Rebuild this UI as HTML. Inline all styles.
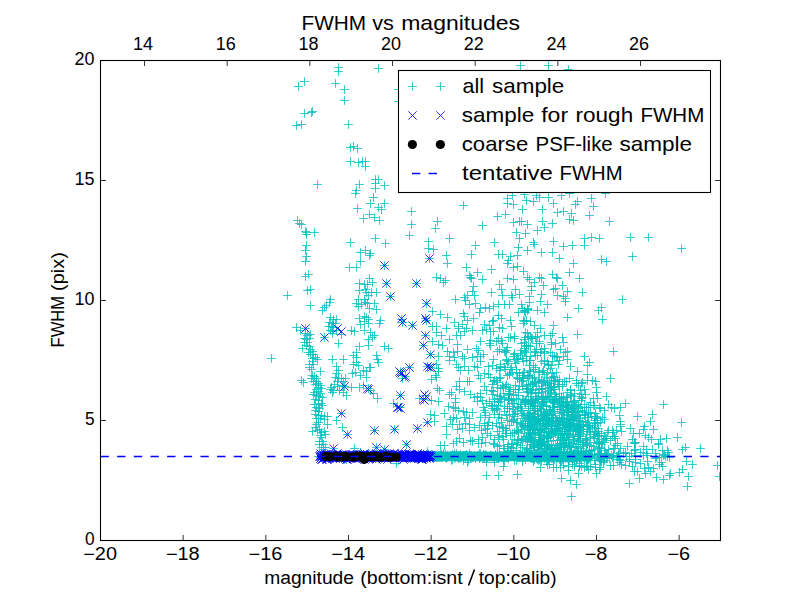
<!DOCTYPE html>
<html><head><meta charset="utf-8"><title>FWHM vs magnitudes</title>
<style>
html,body{margin:0;padding:0;background:#fff;}
body{width:800px;height:600px;overflow:hidden;}
svg{display:block;}
text{font-family:"Liberation Sans",sans-serif;fill:#000;}
.tk{font-size:17.5px;}
.lg{font-size:20.6px;}
.xl{font-size:18px;}
</style></head><body>
<svg width="800" height="600" viewBox="0 0 800 600">
<rect width="800" height="600" fill="#fff"/>
<defs><clipPath id="ax"><rect x="100.5" y="60.5" width="620" height="480"/></clipPath></defs>

<g clip-path="url(#ax)">
<rect x="433" y="451.6" width="150" height="9.6" fill="#00bfbf"/>
<path d="M334.1 67.5h8.8M338.5 63.1v8.8M334.1 71.5h8.8M338.5 67.1v8.8M374.1 68.5h8.8M378.5 64.1v8.8M300.1 81.5h8.8M304.5 77.1v8.8M294.1 86.5h8.8M298.5 82.1v8.8M331.1 83.5h8.8M335.5 79.1v8.8M340.1 89.5h8.8M344.5 85.1v8.8M340.1 100.5h8.8M344.5 96.1v8.8M394.1 89.5h8.8M398.5 85.1v8.8M394.1 101.5h8.8M398.5 97.1v8.8M300.1 113.5h8.8M304.5 109.1v8.8M307.1 112.5h8.8M311.5 108.1v8.8M308.1 111.5h8.8M312.5 107.1v8.8M292.1 125.5h8.8M296.5 121.1v8.8M297.1 124.5h8.8M301.5 120.1v8.8M344.1 124.5h8.8M348.5 120.1v8.8M346.1 147.5h8.8M350.5 143.1v8.8M349.1 146.5h8.8M353.5 142.1v8.8M353.1 148.5h8.8M357.5 144.1v8.8M346.1 161.5h8.8M350.5 157.1v8.8M354.1 162.5h8.8M358.5 158.1v8.8M358.1 161.5h8.8M362.5 157.1v8.8M361.1 161.5h8.8M365.5 157.1v8.8M361.1 166.5h8.8M365.5 162.1v8.8M371.1 179.5h8.8M375.5 175.1v8.8M374.1 179.5h8.8M378.5 175.1v8.8M313.1 184.5h8.8M317.5 180.1v8.8M355.1 184.5h8.8M359.5 180.1v8.8M352.1 190.5h8.8M356.5 186.1v8.8M351.1 193.5h8.8M355.5 189.1v8.8M371.1 183.5h8.8M375.5 179.1v8.8M380.1 185.5h8.8M384.5 181.1v8.8M371.1 188.5h8.8M375.5 184.1v8.8M369.1 197.5h8.8M373.5 193.1v8.8M366.1 203.5h8.8M370.5 199.1v8.8M380.1 203.5h8.8M384.5 199.1v8.8M374.1 207.5h8.8M378.5 203.1v8.8M377.1 209.5h8.8M381.5 205.1v8.8M353.1 208.5h8.8M357.5 204.1v8.8M365.1 214.5h8.8M369.5 210.1v8.8M359.1 218.5h8.8M363.5 214.1v8.8M370.1 217.5h8.8M374.5 213.1v8.8M375.1 220.5h8.8M379.5 216.1v8.8M407.1 211.5h8.8M411.5 207.1v8.8M407.1 224.5h8.8M411.5 220.1v8.8M405.1 235.5h8.8M409.5 231.1v8.8M293.1 220.5h8.8M297.5 216.1v8.8M295.1 223.5h8.8M299.5 219.1v8.8M297.1 224.5h8.8M301.5 220.1v8.8M301.1 231.5h8.8M305.5 227.1v8.8M302.1 232.5h8.8M306.5 228.1v8.8M302.1 234.5h8.8M306.5 230.1v8.8M310.1 232.5h8.8M314.5 228.1v8.8M302.1 245.5h8.8M306.5 241.1v8.8M301.1 250.5h8.8M305.5 246.1v8.8M302.1 256.5h8.8M306.5 252.1v8.8M301.1 261.5h8.8M305.5 257.1v8.8M304.1 274.5h8.8M308.5 270.1v8.8M301.1 276.5h8.8M305.5 272.1v8.8M303.1 290.5h8.8M307.5 286.1v8.8M306.1 289.5h8.8M310.5 285.1v8.8M283.1 295.5h8.8M287.5 291.1v8.8M326.1 299.5h8.8M330.5 295.1v8.8M346.1 242.5h8.8M350.5 238.1v8.8M371.1 238.5h8.8M375.5 234.1v8.8M381.1 243.5h8.8M385.5 239.1v8.8M361.1 250.5h8.8M365.5 246.1v8.8M356.1 252.5h8.8M360.5 248.1v8.8M366.1 253.5h8.8M370.5 249.1v8.8M365.1 255.5h8.8M369.5 251.1v8.8M356.1 261.5h8.8M360.5 257.1v8.8M345.1 267.5h8.8M349.5 263.1v8.8M352.1 267.5h8.8M356.5 263.1v8.8M365.1 278.5h8.8M369.5 274.1v8.8M368.1 282.5h8.8M372.5 278.1v8.8M355.1 283.5h8.8M359.5 279.1v8.8M360.1 284.5h8.8M364.5 280.1v8.8M363.1 284.5h8.8M367.5 280.1v8.8M355.1 290.5h8.8M359.5 286.1v8.8M361.1 289.5h8.8M365.5 285.1v8.8M362.1 292.5h8.8M366.5 288.1v8.8M367.1 292.5h8.8M371.5 288.1v8.8M372.1 292.5h8.8M376.5 288.1v8.8M364.1 295.5h8.8M368.5 291.1v8.8M354.1 299.5h8.8M358.5 295.1v8.8M360.1 299.5h8.8M364.5 295.1v8.8M380.1 265.5h8.8M384.5 261.1v8.8M382.1 283.5h8.8M386.5 279.1v8.8M412.1 283.5h8.8M416.5 279.1v8.8M386.1 296.5h8.8M390.5 292.1v8.8M306.1 305.5h8.8M310.5 301.1v8.8M318.1 310.5h8.8M322.5 306.1v8.8M320.1 307.5h8.8M324.5 303.1v8.8M322.1 305.5h8.8M326.5 301.1v8.8M325.1 302.5h8.8M329.5 298.1v8.8M292.1 327.5h8.8M296.5 323.1v8.8M296.1 330.5h8.8M300.5 326.1v8.8M301.1 328.5h8.8M305.5 324.1v8.8M301.1 333.5h8.8M305.5 329.1v8.8M303.1 335.5h8.8M307.5 331.1v8.8M306.1 334.5h8.8M310.5 330.1v8.8M300.1 338.5h8.8M304.5 334.1v8.8M302.1 339.5h8.8M306.5 335.1v8.8M305.1 338.5h8.8M309.5 334.1v8.8M300.1 342.5h8.8M304.5 338.1v8.8M303.1 342.5h8.8M307.5 338.1v8.8M302.1 345.5h8.8M306.5 341.1v8.8M305.1 346.5h8.8M309.5 342.1v8.8M298.1 348.5h8.8M302.5 344.1v8.8M306.1 349.5h8.8M310.5 345.1v8.8M304.1 352.5h8.8M308.5 348.1v8.8M308.1 351.5h8.8M312.5 347.1v8.8M306.1 354.5h8.8M310.5 350.1v8.8M309.1 354.5h8.8M313.5 350.1v8.8M311.1 357.5h8.8M315.5 353.1v8.8M308.1 358.5h8.8M312.5 354.1v8.8M313.1 359.5h8.8M317.5 355.1v8.8M267.1 358.5h8.8M271.5 354.1v8.8M326.1 317.5h8.8M330.5 313.1v8.8M329.1 319.5h8.8M333.5 315.1v8.8M332.1 319.5h8.8M336.5 315.1v8.8M325.1 322.5h8.8M329.5 318.1v8.8M328.1 323.5h8.8M332.5 319.1v8.8M331.1 323.5h8.8M335.5 319.1v8.8M324.1 326.5h8.8M328.5 322.1v8.8M327.1 326.5h8.8M331.5 322.1v8.8M329.1 327.5h8.8M333.5 323.1v8.8M326.1 330.5h8.8M330.5 326.1v8.8M328.1 331.5h8.8M332.5 327.1v8.8M332.1 330.5h8.8M336.5 326.1v8.8M328.1 333.5h8.8M332.5 329.1v8.8M334.1 343.5h8.8M338.5 339.1v8.8M328.1 359.5h8.8M332.5 355.1v8.8M320.1 337.5h8.8M324.5 333.1v8.8M352.1 303.5h8.8M356.5 299.1v8.8M354.1 306.5h8.8M358.5 302.1v8.8M357.1 304.5h8.8M361.5 300.1v8.8M361.1 302.5h8.8M365.5 298.1v8.8M363.1 303.5h8.8M367.5 299.1v8.8M365.1 308.5h8.8M369.5 304.1v8.8M370.1 303.5h8.8M374.5 299.1v8.8M372.1 309.5h8.8M376.5 305.1v8.8M355.1 318.5h8.8M359.5 314.1v8.8M356.1 324.5h8.8M360.5 320.1v8.8M360.1 316.5h8.8M364.5 312.1v8.8M360.1 321.5h8.8M364.5 317.1v8.8M362.1 317.5h8.8M366.5 313.1v8.8M364.1 319.5h8.8M368.5 315.1v8.8M360.1 330.5h8.8M364.5 326.1v8.8M364.1 323.5h8.8M368.5 319.1v8.8M376.1 320.5h8.8M380.5 316.1v8.8M375.1 323.5h8.8M379.5 319.1v8.8M347.1 330.5h8.8M351.5 326.1v8.8M350.1 331.5h8.8M354.5 327.1v8.8M366.1 332.5h8.8M370.5 328.1v8.8M370.1 335.5h8.8M374.5 331.1v8.8M364.1 339.5h8.8M368.5 335.1v8.8M368.1 337.5h8.8M372.5 333.1v8.8M364.1 345.5h8.8M368.5 341.1v8.8M355.1 346.5h8.8M359.5 342.1v8.8M352.1 352.5h8.8M356.5 348.1v8.8M349.1 355.5h8.8M353.5 351.1v8.8M352.1 357.5h8.8M356.5 353.1v8.8M339.1 359.5h8.8M343.5 355.1v8.8M380.1 346.5h8.8M384.5 342.1v8.8M384.1 348.5h8.8M388.5 344.1v8.8M372.1 355.5h8.8M376.5 351.1v8.8M373.1 359.5h8.8M377.5 355.1v8.8M337.1 334.5h8.8M341.5 330.1v8.8M397.1 319.5h8.8M401.5 315.1v8.8M398.1 322.5h8.8M402.5 318.1v8.8M408.1 325.5h8.8M412.5 321.1v8.8M297.1 380.5h8.8M301.5 376.1v8.8M299.1 382.5h8.8M303.5 378.1v8.8M308.1 361.5h8.8M312.5 357.1v8.8M305.1 364.5h8.8M309.5 360.1v8.8M309.1 364.5h8.8M313.5 360.1v8.8M305.1 367.5h8.8M309.5 363.1v8.8M307.1 369.5h8.8M311.5 365.1v8.8M316.1 371.5h8.8M320.5 367.1v8.8M308.1 375.5h8.8M312.5 371.1v8.8M310.1 376.5h8.8M314.5 372.1v8.8M312.1 378.5h8.8M316.5 374.1v8.8M307.1 378.5h8.8M311.5 374.1v8.8M309.1 381.5h8.8M313.5 377.1v8.8M312.1 381.5h8.8M316.5 377.1v8.8M314.1 383.5h8.8M318.5 379.1v8.8M311.1 384.5h8.8M315.5 380.1v8.8M316.1 385.5h8.8M320.5 381.1v8.8M314.1 387.5h8.8M318.5 383.1v8.8M317.1 388.5h8.8M321.5 384.1v8.8M312.1 389.5h8.8M316.5 385.1v8.8M314.1 391.5h8.8M318.5 387.1v8.8M310.1 392.5h8.8M314.5 388.1v8.8M316.1 393.5h8.8M320.5 389.1v8.8M309.1 394.5h8.8M313.5 390.1v8.8M312.1 395.5h8.8M316.5 391.1v8.8M315.1 396.5h8.8M319.5 392.1v8.8M318.1 397.5h8.8M322.5 393.1v8.8M311.1 399.5h8.8M315.5 395.1v8.8M314.1 400.5h8.8M318.5 396.1v8.8M310.1 404.5h8.8M314.5 400.1v8.8M314.1 404.5h8.8M318.5 400.1v8.8M317.1 403.5h8.8M321.5 399.1v8.8M318.1 405.5h8.8M322.5 401.1v8.8M312.1 407.5h8.8M316.5 403.1v8.8M315.1 408.5h8.8M319.5 404.1v8.8M311.1 410.5h8.8M315.5 406.1v8.8M314.1 411.5h8.8M318.5 407.1v8.8M311.1 414.5h8.8M315.5 410.1v8.8M314.1 415.5h8.8M318.5 411.1v8.8M317.1 415.5h8.8M321.5 411.1v8.8M320.1 416.5h8.8M324.5 412.1v8.8M323.1 416.5h8.8M327.5 412.1v8.8M312.1 418.5h8.8M316.5 414.1v8.8M316.1 418.5h8.8M320.5 414.1v8.8M320.1 419.5h8.8M324.5 415.1v8.8M332.1 366.5h8.8M336.5 362.1v8.8M334.1 370.5h8.8M338.5 366.1v8.8M332.1 373.5h8.8M336.5 369.1v8.8M331.1 377.5h8.8M335.5 373.1v8.8M334.1 378.5h8.8M338.5 374.1v8.8M333.1 381.5h8.8M337.5 377.1v8.8M330.1 384.5h8.8M334.5 380.1v8.8M333.1 386.5h8.8M337.5 382.1v8.8M327.1 387.5h8.8M331.5 383.1v8.8M326.1 389.5h8.8M330.5 385.1v8.8M329.1 390.5h8.8M333.5 386.1v8.8M328.1 392.5h8.8M332.5 388.1v8.8M335.1 390.5h8.8M339.5 386.1v8.8M349.1 364.5h8.8M353.5 360.1v8.8M352.1 362.5h8.8M356.5 358.1v8.8M354.1 365.5h8.8M358.5 361.1v8.8M374.1 362.5h8.8M378.5 358.1v8.8M348.1 373.5h8.8M352.5 369.1v8.8M351.1 372.5h8.8M355.5 368.1v8.8M356.1 375.5h8.8M360.5 371.1v8.8M359.1 370.5h8.8M363.5 366.1v8.8M362.1 371.5h8.8M366.5 367.1v8.8M365.1 367.5h8.8M369.5 363.1v8.8M366.1 367.5h8.8M370.5 363.1v8.8M362.1 377.5h8.8M366.5 373.1v8.8M337.1 378.5h8.8M341.5 374.1v8.8M339.1 381.5h8.8M343.5 377.1v8.8M341.1 378.5h8.8M345.5 374.1v8.8M338.1 385.5h8.8M342.5 381.1v8.8M340.1 386.5h8.8M344.5 382.1v8.8M347.1 387.5h8.8M351.5 383.1v8.8M355.1 387.5h8.8M359.5 383.1v8.8M359.1 385.5h8.8M363.5 381.1v8.8M339.1 392.5h8.8M343.5 388.1v8.8M342.1 395.5h8.8M346.5 391.1v8.8M364.1 388.5h8.8M368.5 384.1v8.8M366.1 390.5h8.8M370.5 386.1v8.8M369.1 393.5h8.8M373.5 389.1v8.8M373.1 398.5h8.8M377.5 394.1v8.8M396.1 371.5h8.8M400.5 367.1v8.8M398.1 375.5h8.8M402.5 371.1v8.8M401.1 376.5h8.8M405.5 372.1v8.8M405.1 367.5h8.8M409.5 363.1v8.8M398.1 378.5h8.8M402.5 374.1v8.8M396.1 395.5h8.8M400.5 391.1v8.8M389.1 403.5h8.8M393.5 399.1v8.8M393.1 406.5h8.8M397.5 402.1v8.8M396.1 407.5h8.8M400.5 403.1v8.8M415.1 398.5h8.8M419.5 394.1v8.8M337.1 413.5h8.8M341.5 409.1v8.8M308.1 431.5h8.8M312.5 427.1v8.8M311.1 427.5h8.8M315.5 423.1v8.8M312.1 424.5h8.8M316.5 420.1v8.8M314.1 422.5h8.8M318.5 418.1v8.8M323.1 424.5h8.8M327.5 420.1v8.8M313.1 430.5h8.8M317.5 426.1v8.8M315.1 429.5h8.8M319.5 425.1v8.8M317.1 432.5h8.8M321.5 428.1v8.8M320.1 431.5h8.8M324.5 427.1v8.8M321.1 434.5h8.8M325.5 430.1v8.8M316.1 435.5h8.8M320.5 431.1v8.8M317.1 437.5h8.8M321.5 433.1v8.8M315.1 441.5h8.8M319.5 437.1v8.8M318.1 441.5h8.8M322.5 437.1v8.8M315.1 444.5h8.8M319.5 440.1v8.8M319.1 444.5h8.8M323.5 440.1v8.8M321.1 447.5h8.8M325.5 443.1v8.8M317.1 447.5h8.8M321.5 443.1v8.8M319.1 449.5h8.8M323.5 445.1v8.8M338.1 427.5h8.8M342.5 423.1v8.8M332.1 420.5h8.8M336.5 416.1v8.8M343.1 434.5h8.8M347.5 430.1v8.8M370.1 430.5h8.8M374.5 426.1v8.8M329.1 448.5h8.8M333.5 444.1v8.8M372.1 447.5h8.8M376.5 443.1v8.8M350.1 448.5h8.8M354.5 444.1v8.8M314.1 456.5h8.8M318.5 452.1v8.8M390.1 429.5h8.8M394.5 425.1v8.8M413.1 428.5h8.8M417.5 424.1v8.8M402.1 444.5h8.8M406.5 440.1v8.8M423.1 422.5h8.8M427.5 418.1v8.8M380.1 449.5h8.8M384.5 445.1v8.8M430.1 421.5h8.8M434.5 417.1v8.8M392.1 463.5h8.8M396.5 459.1v8.8M442.1 426.5h8.8M446.5 422.1v8.8M442.1 434.5h8.8M446.5 430.1v8.8M436.1 445.5h8.8M440.5 441.1v8.8M440.1 445.5h8.8M444.5 441.1v8.8M448.1 424.5h8.8M452.5 420.1v8.8M453.1 429.5h8.8M457.5 425.1v8.8M449.1 443.5h8.8M453.5 439.1v8.8M452.1 441.5h8.8M456.5 437.1v8.8M455.1 438.5h8.8M459.5 434.1v8.8M455.1 424.5h8.8M459.5 420.1v8.8M503.1 198.5h8.8M507.5 194.1v8.8M508.1 195.5h8.8M512.5 191.1v8.8M520.1 194.5h8.8M524.5 190.1v8.8M532.1 195.5h8.8M536.5 191.1v8.8M535.1 197.5h8.8M539.5 193.1v8.8M544.1 197.5h8.8M548.5 193.1v8.8M557.1 195.5h8.8M561.5 191.1v8.8M565.1 193.5h8.8M569.5 189.1v8.8M503.1 203.5h8.8M507.5 199.1v8.8M509.1 204.5h8.8M513.5 200.1v8.8M522.1 200.5h8.8M526.5 196.1v8.8M529.1 201.5h8.8M533.5 197.1v8.8M549.1 203.5h8.8M553.5 199.1v8.8M571.1 204.5h8.8M575.5 200.1v8.8M573.1 201.5h8.8M577.5 197.1v8.8M459.1 205.5h8.8M463.5 201.1v8.8M518.1 209.5h8.8M522.5 205.1v8.8M538.1 209.5h8.8M542.5 205.1v8.8M553.1 212.5h8.8M557.5 208.1v8.8M559.1 211.5h8.8M563.5 207.1v8.8M567.1 213.5h8.8M571.5 209.1v8.8M493.1 216.5h8.8M497.5 212.1v8.8M501.1 214.5h8.8M505.5 210.1v8.8M433.1 221.5h8.8M437.5 217.1v8.8M431.1 228.5h8.8M435.5 224.1v8.8M478.1 225.5h8.8M482.5 221.1v8.8M509.1 222.5h8.8M513.5 218.1v8.8M515.1 221.5h8.8M519.5 217.1v8.8M517.1 221.5h8.8M521.5 217.1v8.8M523.1 224.5h8.8M527.5 220.1v8.8M538.1 221.5h8.8M542.5 217.1v8.8M548.1 223.5h8.8M552.5 219.1v8.8M565.1 219.5h8.8M569.5 215.1v8.8M569.1 220.5h8.8M573.5 216.1v8.8M540.1 227.5h8.8M544.5 223.1v8.8M533.1 230.5h8.8M537.5 226.1v8.8M512.1 232.5h8.8M516.5 228.1v8.8M521.1 233.5h8.8M525.5 229.1v8.8M515.1 238.5h8.8M519.5 234.1v8.8M445.1 238.5h8.8M449.5 234.1v8.8M424.1 241.5h8.8M428.5 237.1v8.8M424.1 248.5h8.8M428.5 244.1v8.8M429.1 249.5h8.8M433.5 245.1v8.8M471.1 245.5h8.8M475.5 241.1v8.8M490.1 242.5h8.8M494.5 238.1v8.8M529.1 242.5h8.8M533.5 238.1v8.8M530.1 244.5h8.8M534.5 240.1v8.8M549.1 241.5h8.8M553.5 237.1v8.8M568.1 245.5h8.8M572.5 241.1v8.8M559.1 246.5h8.8M563.5 242.1v8.8M514.1 247.5h8.8M518.5 243.1v8.8M523.1 250.5h8.8M527.5 246.1v8.8M537.1 252.5h8.8M541.5 248.1v8.8M548.1 252.5h8.8M552.5 248.1v8.8M467.1 254.5h8.8M471.5 250.1v8.8M442.1 255.5h8.8M446.5 251.1v8.8M494.1 254.5h8.8M498.5 250.1v8.8M498.1 254.5h8.8M502.5 250.1v8.8M506.1 256.5h8.8M510.5 252.1v8.8M513.1 255.5h8.8M517.5 251.1v8.8M555.1 258.5h8.8M559.5 254.1v8.8M569.1 263.5h8.8M573.5 259.1v8.8M504.1 260.5h8.8M508.5 256.1v8.8M503.1 263.5h8.8M507.5 259.1v8.8M443.1 263.5h8.8M447.5 259.1v8.8M462.1 267.5h8.8M466.5 263.1v8.8M487.1 269.5h8.8M491.5 265.1v8.8M509.1 267.5h8.8M513.5 263.1v8.8M513.1 266.5h8.8M517.5 262.1v8.8M519.1 271.5h8.8M523.5 267.1v8.8M565.1 272.5h8.8M569.5 268.1v8.8M473.1 272.5h8.8M477.5 268.1v8.8M465.1 275.5h8.8M469.5 271.1v8.8M466.1 277.5h8.8M470.5 273.1v8.8M467.1 278.5h8.8M471.5 274.1v8.8M478.1 279.5h8.8M482.5 275.1v8.8M432.1 277.5h8.8M436.5 273.1v8.8M436.1 278.5h8.8M440.5 274.1v8.8M439.1 282.5h8.8M443.5 278.1v8.8M441.1 280.5h8.8M445.5 276.1v8.8M503.1 278.5h8.8M507.5 274.1v8.8M509.1 279.5h8.8M513.5 275.1v8.8M523.1 277.5h8.8M527.5 273.1v8.8M525.1 279.5h8.8M529.5 275.1v8.8M535.1 277.5h8.8M539.5 273.1v8.8M537.1 278.5h8.8M541.5 274.1v8.8M548.1 274.5h8.8M552.5 270.1v8.8M552.1 277.5h8.8M556.5 273.1v8.8M553.1 278.5h8.8M557.5 274.1v8.8M575.1 278.5h8.8M579.5 274.1v8.8M495.1 284.5h8.8M499.5 280.1v8.8M497.1 289.5h8.8M501.5 285.1v8.8M469.1 286.5h8.8M473.5 282.1v8.8M468.1 291.5h8.8M472.5 287.1v8.8M530.1 282.5h8.8M534.5 278.1v8.8M527.1 286.5h8.8M531.5 282.1v8.8M539.1 285.5h8.8M543.5 281.1v8.8M549.1 289.5h8.8M553.5 285.1v8.8M551.1 288.5h8.8M555.5 284.1v8.8M558.1 285.5h8.8M562.5 281.1v8.8M563.1 291.5h8.8M567.5 287.1v8.8M487.1 292.5h8.8M491.5 288.1v8.8M463.1 295.5h8.8M467.5 291.1v8.8M460.1 297.5h8.8M464.5 293.1v8.8M470.1 295.5h8.8M474.5 291.1v8.8M451.1 299.5h8.8M455.5 295.1v8.8M498.1 295.5h8.8M502.5 291.1v8.8M507.1 295.5h8.8M511.5 291.1v8.8M508.1 297.5h8.8M512.5 293.1v8.8M515.1 294.5h8.8M519.5 290.1v8.8M525.1 296.5h8.8M529.5 292.1v8.8M537.1 294.5h8.8M541.5 290.1v8.8M553.1 295.5h8.8M557.5 291.1v8.8M559.1 296.5h8.8M563.5 292.1v8.8M561.1 298.5h8.8M565.5 294.1v8.8M511.1 289.5h8.8M515.5 285.1v8.8M527.1 290.5h8.8M531.5 286.1v8.8M425.1 258.5h8.8M429.5 254.1v8.8M601.1 193.5h8.8M605.5 189.1v8.8M587.1 198.5h8.8M591.5 194.1v8.8M589.1 206.5h8.8M593.5 202.1v8.8M585.1 215.5h8.8M589.5 211.1v8.8M605.1 221.5h8.8M609.5 217.1v8.8M580.1 238.5h8.8M584.5 234.1v8.8M587.1 237.5h8.8M591.5 233.1v8.8M595.1 238.5h8.8M599.5 234.1v8.8M626.1 237.5h8.8M630.5 233.1v8.8M644.1 237.5h8.8M648.5 233.1v8.8M580.1 245.5h8.8M584.5 241.1v8.8M677.1 248.5h8.8M681.5 244.1v8.8M628.1 256.5h8.8M632.5 252.1v8.8M597.1 259.5h8.8M601.5 255.1v8.8M602.1 261.5h8.8M606.5 257.1v8.8M578.1 292.5h8.8M582.5 288.1v8.8M618.1 299.5h8.8M622.5 295.1v8.8M422.1 303.5h8.8M426.5 299.1v8.8M421.1 318.5h8.8M425.5 314.1v8.8M422.1 320.5h8.8M426.5 316.1v8.8M421.1 335.5h8.8M425.5 331.1v8.8M419.1 345.5h8.8M423.5 341.1v8.8M426.1 354.5h8.8M430.5 350.1v8.8M461.1 300.5h8.8M465.5 296.1v8.8M465.1 304.5h8.8M469.5 300.1v8.8M471.1 303.5h8.8M475.5 299.1v8.8M476.1 308.5h8.8M480.5 304.1v8.8M481.1 307.5h8.8M485.5 303.1v8.8M485.1 308.5h8.8M489.5 304.1v8.8M489.1 306.5h8.8M493.5 302.1v8.8M494.1 304.5h8.8M498.5 300.1v8.8M475.1 312.5h8.8M479.5 308.1v8.8M494.1 315.5h8.8M498.5 311.1v8.8M428.1 311.5h8.8M432.5 307.1v8.8M436.1 314.5h8.8M440.5 310.1v8.8M443.1 317.5h8.8M447.5 313.1v8.8M459.1 313.5h8.8M463.5 309.1v8.8M460.1 316.5h8.8M464.5 312.1v8.8M469.1 318.5h8.8M473.5 314.1v8.8M463.1 320.5h8.8M467.5 316.1v8.8M450.1 322.5h8.8M454.5 318.1v8.8M432.1 326.5h8.8M436.5 322.1v8.8M428.1 326.5h8.8M432.5 322.1v8.8M442.1 328.5h8.8M446.5 324.1v8.8M454.1 326.5h8.8M458.5 322.1v8.8M458.1 324.5h8.8M462.5 320.1v8.8M462.1 328.5h8.8M466.5 324.1v8.8M460.1 331.5h8.8M464.5 327.1v8.8M468.1 330.5h8.8M472.5 326.1v8.8M454.1 328.5h8.8M458.5 324.1v8.8M480.1 324.5h8.8M484.5 320.1v8.8M485.1 325.5h8.8M489.5 321.1v8.8M478.1 330.5h8.8M482.5 326.1v8.8M482.1 329.5h8.8M486.5 325.1v8.8M486.1 331.5h8.8M490.5 327.1v8.8M495.1 327.5h8.8M499.5 323.1v8.8M432.1 332.5h8.8M436.5 328.1v8.8M437.1 335.5h8.8M441.5 331.1v8.8M445.1 339.5h8.8M449.5 335.1v8.8M452.1 335.5h8.8M456.5 331.1v8.8M456.1 335.5h8.8M460.5 331.1v8.8M428.1 341.5h8.8M432.5 337.1v8.8M434.1 344.5h8.8M438.5 340.1v8.8M438.1 345.5h8.8M442.5 341.1v8.8M453.1 344.5h8.8M457.5 340.1v8.8M476.1 341.5h8.8M480.5 337.1v8.8M486.1 340.5h8.8M490.5 336.1v8.8M485.1 343.5h8.8M489.5 339.1v8.8M486.1 345.5h8.8M490.5 341.1v8.8M492.1 341.5h8.8M496.5 337.1v8.8M494.1 338.5h8.8M498.5 334.1v8.8M463.1 349.5h8.8M467.5 345.1v8.8M443.1 351.5h8.8M447.5 347.1v8.8M449.1 352.5h8.8M453.5 348.1v8.8M453.1 351.5h8.8M457.5 347.1v8.8M434.1 356.5h8.8M438.5 352.1v8.8M445.1 356.5h8.8M449.5 352.1v8.8M450.1 357.5h8.8M454.5 353.1v8.8M458.1 356.5h8.8M462.5 352.1v8.8M460.1 358.5h8.8M464.5 354.1v8.8M468.1 357.5h8.8M472.5 353.1v8.8M472.1 348.5h8.8M476.5 344.1v8.8M474.1 350.5h8.8M478.5 346.1v8.8M473.1 356.5h8.8M477.5 352.1v8.8M476.1 356.5h8.8M480.5 352.1v8.8M479.1 354.5h8.8M483.5 350.1v8.8M489.1 359.5h8.8M493.5 355.1v8.8M493.1 351.5h8.8M497.5 347.1v8.8M495.1 349.5h8.8M499.5 345.1v8.8M563.1 317.5h8.8M567.5 313.1v8.8M574.1 308.5h8.8M578.5 304.1v8.8M549.1 325.5h8.8M553.5 321.1v8.8M573.1 334.5h8.8M577.5 330.1v8.8M546.1 335.5h8.8M550.5 331.1v8.8M556.1 349.5h8.8M560.5 345.1v8.8M563.1 351.5h8.8M567.5 347.1v8.8M561.1 301.5h8.8M565.5 297.1v8.8M536.1 301.5h8.8M540.5 297.1v8.8M540.1 312.5h8.8M544.5 308.1v8.8M563.1 359.5h8.8M567.5 355.1v8.8M540.1 335.5h8.8M544.5 331.1v8.8M540.1 348.5h8.8M544.5 344.1v8.8M546.1 352.5h8.8M550.5 348.1v8.8M550.1 356.5h8.8M554.5 352.1v8.8M553.1 357.5h8.8M557.5 353.1v8.8M536.1 328.5h8.8M540.5 324.1v8.8M423.1 366.5h8.8M427.5 362.1v8.8M426.1 367.5h8.8M430.5 363.1v8.8M421.1 395.5h8.8M425.5 391.1v8.8M419.1 399.5h8.8M423.5 395.1v8.8M432.1 364.5h8.8M436.5 360.1v8.8M434.1 368.5h8.8M438.5 364.1v8.8M434.1 371.5h8.8M438.5 367.1v8.8M431.1 375.5h8.8M435.5 371.1v8.8M427.1 379.5h8.8M431.5 375.1v8.8M432.1 377.5h8.8M436.5 373.1v8.8M452.1 364.5h8.8M456.5 360.1v8.8M454.1 367.5h8.8M458.5 363.1v8.8M456.1 370.5h8.8M460.5 366.1v8.8M460.1 366.5h8.8M464.5 362.1v8.8M464.1 370.5h8.8M468.5 366.1v8.8M470.1 366.5h8.8M474.5 362.1v8.8M473.1 367.5h8.8M477.5 363.1v8.8M476.1 361.5h8.8M480.5 357.1v8.8M484.1 366.5h8.8M488.5 362.1v8.8M488.1 365.5h8.8M492.5 361.1v8.8M492.1 368.5h8.8M496.5 364.1v8.8M495.1 370.5h8.8M499.5 366.1v8.8M445.1 360.5h8.8M449.5 356.1v8.8M474.1 375.5h8.8M478.5 371.1v8.8M476.1 378.5h8.8M480.5 374.1v8.8M480.1 373.5h8.8M484.5 369.1v8.8M484.1 374.5h8.8M488.5 370.1v8.8M486.1 377.5h8.8M490.5 373.1v8.8M490.1 380.5h8.8M494.5 376.1v8.8M493.1 382.5h8.8M497.5 378.1v8.8M488.1 384.5h8.8M492.5 380.1v8.8M455.1 381.5h8.8M459.5 377.1v8.8M463.1 381.5h8.8M467.5 377.1v8.8M465.1 381.5h8.8M469.5 377.1v8.8M452.1 386.5h8.8M456.5 382.1v8.8M455.1 389.5h8.8M459.5 385.1v8.8M460.1 391.5h8.8M464.5 387.1v8.8M447.1 392.5h8.8M451.5 388.1v8.8M445.1 394.5h8.8M449.5 390.1v8.8M482.1 390.5h8.8M486.5 386.1v8.8M433.1 388.5h8.8M437.5 384.1v8.8M435.1 390.5h8.8M439.5 386.1v8.8M427.1 400.5h8.8M431.5 396.1v8.8M434.1 401.5h8.8M438.5 397.1v8.8M451.1 398.5h8.8M455.5 394.1v8.8M451.1 402.5h8.8M455.5 398.1v8.8M466.1 394.5h8.8M470.5 390.1v8.8M470.1 397.5h8.8M474.5 393.1v8.8M473.1 396.5h8.8M477.5 392.1v8.8M476.1 397.5h8.8M480.5 393.1v8.8M473.1 401.5h8.8M477.5 397.1v8.8M482.1 403.5h8.8M486.5 399.1v8.8M485.1 401.5h8.8M489.5 397.1v8.8M488.1 394.5h8.8M492.5 390.1v8.8M493.1 395.5h8.8M497.5 391.1v8.8M495.1 398.5h8.8M499.5 394.1v8.8M494.1 402.5h8.8M498.5 398.1v8.8M444.1 406.5h8.8M448.5 402.1v8.8M449.1 407.5h8.8M453.5 403.1v8.8M451.1 408.5h8.8M455.5 404.1v8.8M454.1 410.5h8.8M458.5 406.1v8.8M459.1 411.5h8.8M463.5 407.1v8.8M462.1 412.5h8.8M466.5 408.1v8.8M468.1 412.5h8.8M472.5 408.1v8.8M440.1 413.5h8.8M444.5 409.1v8.8M426.1 414.5h8.8M430.5 410.1v8.8M430.1 415.5h8.8M434.5 411.1v8.8M488.1 408.5h8.8M492.5 404.1v8.8M490.1 410.5h8.8M494.5 406.1v8.8M493.1 409.5h8.8M497.5 405.1v8.8M490.1 414.5h8.8M494.5 410.1v8.8M495.1 414.5h8.8M499.5 410.1v8.8M449.1 417.5h8.8M453.5 413.1v8.8M452.1 418.5h8.8M456.5 414.1v8.8M460.1 417.5h8.8M464.5 413.1v8.8M465.1 418.5h8.8M469.5 414.1v8.8M476.1 417.5h8.8M480.5 413.1v8.8M481.1 415.5h8.8M485.5 411.1v8.8M485.1 417.5h8.8M489.5 413.1v8.8M446.1 419.5h8.8M450.5 415.1v8.8M597.1 307.5h8.8M601.5 303.1v8.8M594.1 310.5h8.8M598.5 306.1v8.8M598.1 319.5h8.8M602.5 315.1v8.8M609.1 351.5h8.8M613.5 347.1v8.8M580.1 356.5h8.8M584.5 352.1v8.8M585.1 362.5h8.8M589.5 358.1v8.8M583.1 365.5h8.8M587.5 361.1v8.8M583.1 374.5h8.8M587.5 370.1v8.8M606.1 378.5h8.8M610.5 374.1v8.8M588.1 380.5h8.8M592.5 376.1v8.8M591.1 381.5h8.8M595.5 377.1v8.8M578.1 382.5h8.8M582.5 378.1v8.8M592.1 387.5h8.8M596.5 383.1v8.8M592.1 392.5h8.8M596.5 388.1v8.8M580.1 389.5h8.8M584.5 385.1v8.8M602.1 396.5h8.8M606.5 392.1v8.8M593.1 398.5h8.8M597.5 394.1v8.8M586.1 402.5h8.8M590.5 398.1v8.8M621.1 403.5h8.8M625.5 399.1v8.8M659.1 404.5h8.8M663.5 400.1v8.8M604.1 404.5h8.8M608.5 400.1v8.8M607.1 407.5h8.8M611.5 403.1v8.8M610.1 408.5h8.8M614.5 404.1v8.8M596.1 408.5h8.8M600.5 404.1v8.8M600.1 410.5h8.8M604.5 406.1v8.8M580.1 404.5h8.8M584.5 400.1v8.8M582.1 407.5h8.8M586.5 403.1v8.8M578.1 410.5h8.8M582.5 406.1v8.8M615.1 415.5h8.8M619.5 411.1v8.8M633.1 416.5h8.8M637.5 412.1v8.8M648.1 414.5h8.8M652.5 410.1v8.8M592.1 416.5h8.8M596.5 412.1v8.8M598.1 417.5h8.8M602.5 413.1v8.8M580.1 415.5h8.8M584.5 411.1v8.8M584.1 417.5h8.8M588.5 413.1v8.8M577.1 398.5h8.8M581.5 394.1v8.8M577.1 400.5h8.8M581.5 396.1v8.8M677.1 422.5h8.8M681.5 418.1v8.8M673.1 437.5h8.8M677.5 433.1v8.8M662.1 438.5h8.8M666.5 434.1v8.8M656.1 439.5h8.8M660.5 435.1v8.8M647.1 439.5h8.8M651.5 435.1v8.8M641.1 435.5h8.8M645.5 431.1v8.8M640.1 426.5h8.8M644.5 422.1v8.8M646.1 421.5h8.8M650.5 417.1v8.8M681.1 447.5h8.8M685.5 443.1v8.8M678.1 449.5h8.8M682.5 445.1v8.8M696.1 448.5h8.8M700.5 444.1v8.8M663.1 450.5h8.8M667.5 446.1v8.8M664.1 452.5h8.8M668.5 448.1v8.8M661.1 456.5h8.8M665.5 452.1v8.8M682.1 461.5h8.8M686.5 457.1v8.8M688.1 464.5h8.8M692.5 460.1v8.8M678.1 469.5h8.8M682.5 465.1v8.8M675.1 472.5h8.8M679.5 468.1v8.8M684.1 476.5h8.8M688.5 472.1v8.8M683.1 486.5h8.8M687.5 482.1v8.8M713.1 465.5h8.8M717.5 461.1v8.8M715.1 476.5h8.8M719.5 472.1v8.8M666.1 473.5h8.8M670.5 469.1v8.8M665.1 475.5h8.8M669.5 471.1v8.8M659.1 479.5h8.8M663.5 475.1v8.8M652.1 477.5h8.8M656.5 473.1v8.8M658.1 466.5h8.8M662.5 462.1v8.8M657.1 462.5h8.8M661.5 458.1v8.8M649.1 468.5h8.8M653.5 464.1v8.8M646.1 471.5h8.8M650.5 467.1v8.8M625.1 483.5h8.8M629.5 479.1v8.8M635.1 478.5h8.8M639.5 474.1v8.8M641.1 473.5h8.8M645.5 469.1v8.8M633.1 471.5h8.8M637.5 467.1v8.8M630.1 471.5h8.8M634.5 467.1v8.8M458.1 428.5h8.8M462.5 424.1v8.8M461.1 423.5h8.8M465.5 419.1v8.8M465.1 430.5h8.8M469.5 426.1v8.8M465.1 424.5h8.8M469.5 420.1v8.8M470.1 427.5h8.8M474.5 423.1v8.8M475.1 425.5h8.8M479.5 421.1v8.8M477.1 430.5h8.8M481.5 426.1v8.8M480.1 423.5h8.8M484.5 419.1v8.8M484.1 422.5h8.8M488.5 418.1v8.8M488.1 425.5h8.8M492.5 421.1v8.8M492.1 423.5h8.8M496.5 419.1v8.8M495.1 426.5h8.8M499.5 422.1v8.8M483.1 433.5h8.8M487.5 429.1v8.8M486.1 435.5h8.8M490.5 431.1v8.8M478.1 437.5h8.8M482.5 433.1v8.8M474.1 439.5h8.8M478.5 435.1v8.8M490.1 439.5h8.8M494.5 435.1v8.8M495.1 435.5h8.8M499.5 431.1v8.8M459.1 442.5h8.8M463.5 438.1v8.8M466.1 440.5h8.8M470.5 436.1v8.8M468.1 441.5h8.8M472.5 437.1v8.8M474.1 443.5h8.8M478.5 439.1v8.8M477.1 443.5h8.8M481.5 439.1v8.8M481.1 442.5h8.8M485.5 438.1v8.8M490.1 444.5h8.8M494.5 440.1v8.8M493.1 446.5h8.8M497.5 442.1v8.8M495.1 445.5h8.8M499.5 441.1v8.8M463.1 462.5h8.8M467.5 458.1v8.8M482.1 462.5h8.8M486.5 458.1v8.8M490.1 462.5h8.8M494.5 458.1v8.8M447.1 460.5h8.8M451.5 456.1v8.8M482.1 475.5h8.8M486.5 471.1v8.8M494.1 475.5h8.8M498.5 471.1v8.8M516.1 65.5h8.8M520.5 61.1v8.8M544.1 65.5h8.8M548.5 61.1v8.8M564.1 69.5h8.8M568.5 65.1v8.8M499.1 466.5h8.8M503.5 462.1v8.8M513.1 474.5h8.8M517.5 470.1v8.8M557.1 478.5h8.8M561.5 474.1v8.8M566.1 480.5h8.8M570.5 476.1v8.8M572.1 484.5h8.8M576.5 480.1v8.8M567.1 496.5h8.8M571.5 492.1v8.8M564.1 470.5h8.8M568.5 466.1v8.8M574.1 473.5h8.8M578.5 469.1v8.8M592.1 473.5h8.8M596.5 469.1v8.8M621.1 465.5h8.8M625.5 461.1v8.8M631.1 462.5h8.8M635.5 458.1v8.8M586.1 466.5h8.8M590.5 462.1v8.8M596.1 467.5h8.8M600.5 463.1v8.8M606.1 465.5h8.8M610.5 461.1v8.8M512.1 460.5h8.8M516.5 456.1v8.8M529.1 461.5h8.8M533.5 457.1v8.8M510.1 460.5h8.8M514.5 456.1v8.8M518.1 460.5h8.8M522.5 456.1v8.8M500.1 461.5h8.8M504.5 457.1v8.8M518.1 461.5h8.8M522.5 457.1v8.8M534.1 460.5h8.8M538.5 456.1v8.8M575.1 463.5h8.8M579.5 459.1v8.8M556.1 461.5h8.8M560.5 457.1v8.8M564.1 461.5h8.8M568.5 457.1v8.8M549.1 460.5h8.8M553.5 456.1v8.8M549.1 467.5h8.8M553.5 463.1v8.8M575.1 465.5h8.8M579.5 461.1v8.8M536.1 467.5h8.8M540.5 463.1v8.8M570.1 466.5h8.8M574.5 462.1v8.8M543.1 460.5h8.8M547.5 456.1v8.8M552.1 467.5h8.8M556.5 463.1v8.8M559.1 465.5h8.8M563.5 461.1v8.8M545.1 464.5h8.8M549.5 460.1v8.8M564.1 466.5h8.8M568.5 462.1v8.8M568.1 461.5h8.8M572.5 457.1v8.8M570.1 461.5h8.8M574.5 457.1v8.8M568.1 464.5h8.8M572.5 460.1v8.8M543.1 464.5h8.8M547.5 460.1v8.8M556.1 467.5h8.8M560.5 463.1v8.8M537.1 461.5h8.8M541.5 457.1v8.8M575.1 466.5h8.8M579.5 462.1v8.8M542.1 461.5h8.8M546.5 457.1v8.8M557.1 461.5h8.8M561.5 457.1v8.8M582.1 460.5h8.8M586.5 456.1v8.8M590.1 460.5h8.8M594.5 456.1v8.8M595.1 469.5h8.8M599.5 465.1v8.8M591.1 467.5h8.8M595.5 463.1v8.8M583.1 466.5h8.8M587.5 462.1v8.8M591.1 464.5h8.8M595.5 460.1v8.8M577.1 466.5h8.8M581.5 462.1v8.8M582.1 466.5h8.8M586.5 462.1v8.8M584.1 469.5h8.8M588.5 465.1v8.8M580.1 467.5h8.8M584.5 463.1v8.8M609.1 465.5h8.8M613.5 461.1v8.8M597.1 461.5h8.8M601.5 457.1v8.8M615.1 462.5h8.8M619.5 458.1v8.8M599.1 462.5h8.8M603.5 458.1v8.8M596.1 460.5h8.8M600.5 456.1v8.8M625.1 461.5h8.8M629.5 457.1v8.8M628.1 466.5h8.8M632.5 462.1v8.8M617.1 464.5h8.8M621.5 460.1v8.8M644.1 467.5h8.8M648.5 463.1v8.8M655.1 464.5h8.8M659.5 460.1v8.8M640.1 468.5h8.8M644.5 464.1v8.8M636.1 463.5h8.8M640.5 459.1v8.8M643.1 461.5h8.8M647.5 457.1v8.8M525.1 302.5h8.8M529.5 298.1v8.8M500.1 304.5h8.8M504.5 300.1v8.8M505.1 304.5h8.8M509.5 300.1v8.8M517.1 304.5h8.8M521.5 300.1v8.8M543.1 304.5h8.8M547.5 300.1v8.8M518.1 308.5h8.8M522.5 304.1v8.8M523.1 310.5h8.8M527.5 306.1v8.8M520.1 310.5h8.8M524.5 306.1v8.8M523.1 308.5h8.8M527.5 304.1v8.8M520.1 311.5h8.8M524.5 307.1v8.8M524.1 309.5h8.8M528.5 305.1v8.8M533.1 310.5h8.8M537.5 306.1v8.8M514.1 312.5h8.8M518.5 308.1v8.8M521.1 312.5h8.8M525.5 308.1v8.8M497.1 318.5h8.8M501.5 314.1v8.8M489.1 320.5h8.8M493.5 316.1v8.8M488.1 321.5h8.8M492.5 317.1v8.8M506.1 320.5h8.8M510.5 316.1v8.8M519.1 323.5h8.8M523.5 319.1v8.8M519.1 320.5h8.8M523.5 316.1v8.8M520.1 321.5h8.8M524.5 317.1v8.8M522.1 320.5h8.8M526.5 316.1v8.8M526.1 321.5h8.8M530.5 317.1v8.8M507.1 326.5h8.8M511.5 322.1v8.8M530.1 325.5h8.8M534.5 321.1v8.8M489.1 331.5h8.8M493.5 327.1v8.8M498.1 328.5h8.8M502.5 324.1v8.8M521.1 332.5h8.8M525.5 328.1v8.8M523.1 333.5h8.8M527.5 329.1v8.8M533.1 332.5h8.8M537.5 328.1v8.8M548.1 333.5h8.8M552.5 329.1v8.8M504.1 337.5h8.8M508.5 333.1v8.8M506.1 337.5h8.8M510.5 333.1v8.8M510.1 336.5h8.8M514.5 332.1v8.8M510.1 338.5h8.8M514.5 334.1v8.8M520.1 339.5h8.8M524.5 335.1v8.8M521.1 337.5h8.8M525.5 333.1v8.8M524.1 336.5h8.8M528.5 332.1v8.8M526.1 336.5h8.8M530.5 332.1v8.8M527.1 338.5h8.8M531.5 334.1v8.8M531.1 337.5h8.8M535.5 333.1v8.8M528.1 338.5h8.8M532.5 334.1v8.8M533.1 336.5h8.8M537.5 332.1v8.8M558.1 337.5h8.8M562.5 333.1v8.8M497.1 340.5h8.8M501.5 336.1v8.8M498.1 343.5h8.8M502.5 339.1v8.8M517.1 343.5h8.8M521.5 339.1v8.8M520.1 342.5h8.8M524.5 338.1v8.8M535.1 341.5h8.8M539.5 337.1v8.8M532.1 343.5h8.8M536.5 339.1v8.8M535.1 343.5h8.8M539.5 339.1v8.8M547.1 342.5h8.8M551.5 338.1v8.8M551.1 343.5h8.8M555.5 339.1v8.8M559.1 342.5h8.8M563.5 338.1v8.8M503.1 347.5h8.8M507.5 343.1v8.8M522.1 346.5h8.8M526.5 342.1v8.8M522.1 345.5h8.8M526.5 341.1v8.8M526.1 346.5h8.8M530.5 342.1v8.8M524.1 345.5h8.8M528.5 341.1v8.8M547.1 344.5h8.8M551.5 340.1v8.8M502.1 350.5h8.8M506.5 346.1v8.8M500.1 351.5h8.8M504.5 347.1v8.8M517.1 350.5h8.8M521.5 346.1v8.8M520.1 348.5h8.8M524.5 344.1v8.8M520.1 350.5h8.8M524.5 346.1v8.8M520.1 351.5h8.8M524.5 347.1v8.8M530.1 351.5h8.8M534.5 347.1v8.8M532.1 349.5h8.8M536.5 345.1v8.8M537.1 349.5h8.8M541.5 345.1v8.8M540.1 351.5h8.8M544.5 347.1v8.8M501.1 352.5h8.8M505.5 348.1v8.8M510.1 353.5h8.8M514.5 349.1v8.8M510.1 354.5h8.8M514.5 350.1v8.8M516.1 353.5h8.8M520.5 349.1v8.8M516.1 355.5h8.8M520.5 351.1v8.8M521.1 352.5h8.8M525.5 348.1v8.8M531.1 355.5h8.8M535.5 351.1v8.8M531.1 352.5h8.8M535.5 348.1v8.8M533.1 355.5h8.8M537.5 351.1v8.8M536.1 352.5h8.8M540.5 348.1v8.8M540.1 353.5h8.8M544.5 349.1v8.8M548.1 355.5h8.8M552.5 351.1v8.8M561.1 352.5h8.8M565.5 348.1v8.8M502.1 359.5h8.8M506.5 355.1v8.8M510.1 359.5h8.8M514.5 355.1v8.8M509.1 356.5h8.8M513.5 352.1v8.8M512.1 359.5h8.8M516.5 355.1v8.8M513.1 358.5h8.8M517.5 354.1v8.8M514.1 359.5h8.8M518.5 355.1v8.8M518.1 358.5h8.8M522.5 354.1v8.8M522.1 356.5h8.8M526.5 352.1v8.8M526.1 356.5h8.8M530.5 352.1v8.8M552.1 356.5h8.8M556.5 352.1v8.8M559.1 356.5h8.8M563.5 352.1v8.8M503.1 363.5h8.8M507.5 359.1v8.8M502.1 360.5h8.8M506.5 356.1v8.8M504.1 361.5h8.8M508.5 357.1v8.8M511.1 363.5h8.8M515.5 359.1v8.8M519.1 361.5h8.8M523.5 357.1v8.8M522.1 360.5h8.8M526.5 356.1v8.8M526.1 360.5h8.8M530.5 356.1v8.8M525.1 360.5h8.8M529.5 356.1v8.8M537.1 361.5h8.8M541.5 357.1v8.8M540.1 360.5h8.8M544.5 356.1v8.8M543.1 361.5h8.8M547.5 357.1v8.8M540.1 363.5h8.8M544.5 359.1v8.8M548.1 361.5h8.8M552.5 357.1v8.8M555.1 360.5h8.8M559.5 356.1v8.8M496.1 364.5h8.8M500.5 360.1v8.8M496.1 367.5h8.8M500.5 363.1v8.8M496.1 366.5h8.8M500.5 362.1v8.8M500.1 367.5h8.8M504.5 363.1v8.8M507.1 367.5h8.8M511.5 363.1v8.8M525.1 365.5h8.8M529.5 361.1v8.8M529.1 365.5h8.8M533.5 361.1v8.8M531.1 367.5h8.8M535.5 363.1v8.8M544.1 364.5h8.8M548.5 360.1v8.8M547.1 365.5h8.8M551.5 361.1v8.8M544.1 365.5h8.8M548.5 361.1v8.8M554.1 364.5h8.8M558.5 360.1v8.8M566.1 366.5h8.8M570.5 362.1v8.8M501.1 369.5h8.8M505.5 365.1v8.8M506.1 369.5h8.8M510.5 365.1v8.8M512.1 369.5h8.8M516.5 365.1v8.8M526.1 371.5h8.8M530.5 367.1v8.8M525.1 370.5h8.8M529.5 366.1v8.8M529.1 369.5h8.8M533.5 365.1v8.8M535.1 371.5h8.8M539.5 367.1v8.8M539.1 370.5h8.8M543.5 366.1v8.8M546.1 368.5h8.8M550.5 364.1v8.8M573.1 371.5h8.8M577.5 367.1v8.8M503.1 375.5h8.8M507.5 371.1v8.8M505.1 374.5h8.8M509.5 370.1v8.8M505.1 373.5h8.8M509.5 369.1v8.8M508.1 372.5h8.8M512.5 368.1v8.8M512.1 372.5h8.8M516.5 368.1v8.8M515.1 373.5h8.8M519.5 369.1v8.8M519.1 372.5h8.8M523.5 368.1v8.8M518.1 375.5h8.8M522.5 371.1v8.8M520.1 372.5h8.8M524.5 368.1v8.8M523.1 375.5h8.8M527.5 371.1v8.8M525.1 375.5h8.8M529.5 371.1v8.8M534.1 372.5h8.8M538.5 368.1v8.8M538.1 372.5h8.8M542.5 368.1v8.8M543.1 372.5h8.8M547.5 368.1v8.8M540.1 374.5h8.8M544.5 370.1v8.8M548.1 373.5h8.8M552.5 369.1v8.8M552.1 372.5h8.8M556.5 368.1v8.8M495.1 378.5h8.8M499.5 374.1v8.8M496.1 377.5h8.8M500.5 373.1v8.8M513.1 377.5h8.8M517.5 373.1v8.8M515.1 379.5h8.8M519.5 375.1v8.8M515.1 378.5h8.8M519.5 374.1v8.8M513.1 378.5h8.8M517.5 374.1v8.8M518.1 378.5h8.8M522.5 374.1v8.8M519.1 377.5h8.8M523.5 373.1v8.8M519.1 378.5h8.8M523.5 374.1v8.8M524.1 376.5h8.8M528.5 372.1v8.8M530.1 377.5h8.8M534.5 373.1v8.8M528.1 378.5h8.8M532.5 374.1v8.8M535.1 379.5h8.8M539.5 375.1v8.8M542.1 377.5h8.8M546.5 373.1v8.8M547.1 378.5h8.8M551.5 374.1v8.8M549.1 376.5h8.8M553.5 372.1v8.8M550.1 377.5h8.8M554.5 373.1v8.8M555.1 379.5h8.8M559.5 375.1v8.8M565.1 378.5h8.8M569.5 374.1v8.8M489.1 381.5h8.8M493.5 377.1v8.8M492.1 380.5h8.8M496.5 376.1v8.8M519.1 380.5h8.8M523.5 376.1v8.8M517.1 381.5h8.8M521.5 377.1v8.8M530.1 382.5h8.8M534.5 378.1v8.8M528.1 383.5h8.8M532.5 379.1v8.8M531.1 382.5h8.8M535.5 378.1v8.8M531.1 381.5h8.8M535.5 377.1v8.8M534.1 381.5h8.8M538.5 377.1v8.8M537.1 383.5h8.8M541.5 379.1v8.8M537.1 380.5h8.8M541.5 376.1v8.8M539.1 382.5h8.8M543.5 378.1v8.8M543.1 382.5h8.8M547.5 378.1v8.8M540.1 381.5h8.8M544.5 377.1v8.8M545.1 383.5h8.8M549.5 379.1v8.8M547.1 380.5h8.8M551.5 376.1v8.8M551.1 380.5h8.8M555.5 376.1v8.8M549.1 380.5h8.8M553.5 376.1v8.8M550.1 381.5h8.8M554.5 377.1v8.8M553.1 381.5h8.8M557.5 377.1v8.8M562.1 381.5h8.8M566.5 377.1v8.8M560.1 381.5h8.8M564.5 377.1v8.8M572.1 383.5h8.8M576.5 379.1v8.8M572.1 380.5h8.8M576.5 376.1v8.8M577.1 383.5h8.8M581.5 379.1v8.8M583.1 380.5h8.8M587.5 376.1v8.8M480.1 386.5h8.8M484.5 382.1v8.8M493.1 387.5h8.8M497.5 383.1v8.8M499.1 387.5h8.8M503.5 383.1v8.8M498.1 385.5h8.8M502.5 381.1v8.8M502.1 384.5h8.8M506.5 380.1v8.8M501.1 386.5h8.8M505.5 382.1v8.8M504.1 387.5h8.8M508.5 383.1v8.8M511.1 385.5h8.8M515.5 381.1v8.8M515.1 386.5h8.8M519.5 382.1v8.8M518.1 386.5h8.8M522.5 382.1v8.8M522.1 385.5h8.8M526.5 381.1v8.8M526.1 384.5h8.8M530.5 380.1v8.8M524.1 384.5h8.8M528.5 380.1v8.8M529.1 386.5h8.8M533.5 382.1v8.8M528.1 384.5h8.8M532.5 380.1v8.8M532.1 386.5h8.8M536.5 382.1v8.8M541.1 385.5h8.8M545.5 381.1v8.8M543.1 384.5h8.8M547.5 380.1v8.8M547.1 387.5h8.8M551.5 383.1v8.8M546.1 387.5h8.8M550.5 383.1v8.8M549.1 387.5h8.8M553.5 383.1v8.8M550.1 386.5h8.8M554.5 382.1v8.8M549.1 386.5h8.8M553.5 382.1v8.8M554.1 384.5h8.8M558.5 380.1v8.8M555.1 386.5h8.8M559.5 382.1v8.8M558.1 384.5h8.8M562.5 380.1v8.8M558.1 386.5h8.8M562.5 382.1v8.8M574.1 385.5h8.8M578.5 381.1v8.8M487.1 390.5h8.8M491.5 386.1v8.8M489.1 391.5h8.8M493.5 387.1v8.8M496.1 388.5h8.8M500.5 384.1v8.8M506.1 389.5h8.8M510.5 385.1v8.8M505.1 391.5h8.8M509.5 387.1v8.8M511.1 389.5h8.8M515.5 385.1v8.8M509.1 389.5h8.8M513.5 385.1v8.8M514.1 389.5h8.8M518.5 385.1v8.8M523.1 391.5h8.8M527.5 387.1v8.8M523.1 388.5h8.8M527.5 384.1v8.8M522.1 388.5h8.8M526.5 384.1v8.8M523.1 389.5h8.8M527.5 385.1v8.8M528.1 390.5h8.8M532.5 386.1v8.8M528.1 389.5h8.8M532.5 385.1v8.8M535.1 389.5h8.8M539.5 385.1v8.8M537.1 388.5h8.8M541.5 384.1v8.8M538.1 388.5h8.8M542.5 384.1v8.8M537.1 389.5h8.8M541.5 385.1v8.8M541.1 391.5h8.8M545.5 387.1v8.8M546.1 390.5h8.8M550.5 386.1v8.8M544.1 388.5h8.8M548.5 384.1v8.8M547.1 389.5h8.8M551.5 385.1v8.8M550.1 389.5h8.8M554.5 385.1v8.8M566.1 389.5h8.8M570.5 385.1v8.8M566.1 390.5h8.8M570.5 386.1v8.8M576.1 390.5h8.8M580.5 386.1v8.8M476.1 393.5h8.8M480.5 389.1v8.8M499.1 393.5h8.8M503.5 389.1v8.8M505.1 394.5h8.8M509.5 390.1v8.8M504.1 393.5h8.8M508.5 389.1v8.8M505.1 395.5h8.8M509.5 391.1v8.8M509.1 394.5h8.8M513.5 390.1v8.8M514.1 392.5h8.8M518.5 388.1v8.8M514.1 395.5h8.8M518.5 391.1v8.8M523.1 392.5h8.8M527.5 388.1v8.8M527.1 392.5h8.8M531.5 388.1v8.8M526.1 393.5h8.8M530.5 389.1v8.8M531.1 392.5h8.8M535.5 388.1v8.8M534.1 393.5h8.8M538.5 389.1v8.8M537.1 392.5h8.8M541.5 388.1v8.8M547.1 392.5h8.8M551.5 388.1v8.8M546.1 393.5h8.8M550.5 389.1v8.8M551.1 394.5h8.8M555.5 390.1v8.8M555.1 393.5h8.8M559.5 389.1v8.8M563.1 392.5h8.8M567.5 388.1v8.8M566.1 394.5h8.8M570.5 390.1v8.8M567.1 395.5h8.8M571.5 391.1v8.8M570.1 393.5h8.8M574.5 389.1v8.8M577.1 394.5h8.8M581.5 390.1v8.8M581.1 394.5h8.8M585.5 390.1v8.8M490.1 399.5h8.8M494.5 395.1v8.8M493.1 398.5h8.8M497.5 394.1v8.8M497.1 399.5h8.8M501.5 395.1v8.8M496.1 396.5h8.8M500.5 392.1v8.8M500.1 397.5h8.8M504.5 393.1v8.8M505.1 399.5h8.8M509.5 395.1v8.8M504.1 398.5h8.8M508.5 394.1v8.8M504.1 399.5h8.8M508.5 395.1v8.8M514.1 399.5h8.8M518.5 395.1v8.8M512.1 398.5h8.8M516.5 394.1v8.8M518.1 399.5h8.8M522.5 395.1v8.8M519.1 399.5h8.8M523.5 395.1v8.8M522.1 399.5h8.8M526.5 395.1v8.8M524.1 396.5h8.8M528.5 392.1v8.8M531.1 399.5h8.8M535.5 395.1v8.8M534.1 396.5h8.8M538.5 392.1v8.8M534.1 398.5h8.8M538.5 394.1v8.8M532.1 396.5h8.8M536.5 392.1v8.8M533.1 399.5h8.8M537.5 395.1v8.8M539.1 397.5h8.8M543.5 393.1v8.8M538.1 398.5h8.8M542.5 394.1v8.8M537.1 399.5h8.8M541.5 395.1v8.8M542.1 399.5h8.8M546.5 395.1v8.8M543.1 396.5h8.8M547.5 392.1v8.8M541.1 396.5h8.8M545.5 392.1v8.8M544.1 396.5h8.8M548.5 392.1v8.8M545.1 397.5h8.8M549.5 393.1v8.8M546.1 399.5h8.8M550.5 395.1v8.8M551.1 398.5h8.8M555.5 394.1v8.8M550.1 399.5h8.8M554.5 395.1v8.8M552.1 399.5h8.8M556.5 395.1v8.8M555.1 398.5h8.8M559.5 394.1v8.8M552.1 396.5h8.8M556.5 392.1v8.8M557.1 398.5h8.8M561.5 394.1v8.8M559.1 397.5h8.8M563.5 393.1v8.8M559.1 399.5h8.8M563.5 395.1v8.8M557.1 396.5h8.8M561.5 392.1v8.8M562.1 397.5h8.8M566.5 393.1v8.8M566.1 396.5h8.8M570.5 392.1v8.8M575.1 396.5h8.8M579.5 392.1v8.8M578.1 397.5h8.8M582.5 393.1v8.8M589.1 398.5h8.8M593.5 394.1v8.8M478.1 400.5h8.8M482.5 396.1v8.8M490.1 401.5h8.8M494.5 397.1v8.8M496.1 401.5h8.8M500.5 397.1v8.8M507.1 400.5h8.8M511.5 396.1v8.8M504.1 400.5h8.8M508.5 396.1v8.8M509.1 403.5h8.8M513.5 399.1v8.8M510.1 403.5h8.8M514.5 399.1v8.8M508.1 403.5h8.8M512.5 399.1v8.8M520.1 402.5h8.8M524.5 398.1v8.8M521.1 400.5h8.8M525.5 396.1v8.8M521.1 401.5h8.8M525.5 397.1v8.8M527.1 401.5h8.8M531.5 397.1v8.8M527.1 402.5h8.8M531.5 398.1v8.8M526.1 400.5h8.8M530.5 396.1v8.8M527.1 400.5h8.8M531.5 396.1v8.8M526.1 403.5h8.8M530.5 399.1v8.8M528.1 401.5h8.8M532.5 397.1v8.8M528.1 403.5h8.8M532.5 399.1v8.8M531.1 401.5h8.8M535.5 397.1v8.8M529.1 400.5h8.8M533.5 396.1v8.8M529.1 402.5h8.8M533.5 398.1v8.8M537.1 403.5h8.8M541.5 399.1v8.8M538.1 401.5h8.8M542.5 397.1v8.8M539.1 402.5h8.8M543.5 398.1v8.8M540.1 401.5h8.8M544.5 397.1v8.8M548.1 401.5h8.8M552.5 397.1v8.8M549.1 402.5h8.8M553.5 398.1v8.8M548.1 402.5h8.8M552.5 398.1v8.8M549.1 400.5h8.8M553.5 396.1v8.8M550.1 403.5h8.8M554.5 399.1v8.8M554.1 400.5h8.8M558.5 396.1v8.8M555.1 401.5h8.8M559.5 397.1v8.8M557.1 402.5h8.8M561.5 398.1v8.8M557.1 401.5h8.8M561.5 397.1v8.8M561.1 403.5h8.8M565.5 399.1v8.8M563.1 401.5h8.8M567.5 397.1v8.8M563.1 402.5h8.8M567.5 398.1v8.8M570.1 400.5h8.8M574.5 396.1v8.8M570.1 402.5h8.8M574.5 398.1v8.8M569.1 401.5h8.8M573.5 397.1v8.8M479.1 407.5h8.8M483.5 403.1v8.8M487.1 405.5h8.8M491.5 401.1v8.8M488.1 406.5h8.8M492.5 402.1v8.8M494.1 405.5h8.8M498.5 401.1v8.8M503.1 406.5h8.8M507.5 402.1v8.8M500.1 406.5h8.8M504.5 402.1v8.8M513.1 407.5h8.8M517.5 403.1v8.8M514.1 406.5h8.8M518.5 402.1v8.8M516.1 404.5h8.8M520.5 400.1v8.8M517.1 404.5h8.8M521.5 400.1v8.8M521.1 404.5h8.8M525.5 400.1v8.8M524.1 406.5h8.8M528.5 402.1v8.8M526.1 404.5h8.8M530.5 400.1v8.8M528.1 406.5h8.8M532.5 402.1v8.8M530.1 405.5h8.8M534.5 401.1v8.8M535.1 406.5h8.8M539.5 402.1v8.8M533.1 406.5h8.8M537.5 402.1v8.8M539.1 406.5h8.8M543.5 402.1v8.8M538.1 404.5h8.8M542.5 400.1v8.8M542.1 405.5h8.8M546.5 401.1v8.8M542.1 406.5h8.8M546.5 402.1v8.8M550.1 407.5h8.8M554.5 403.1v8.8M549.1 407.5h8.8M553.5 403.1v8.8M548.1 407.5h8.8M552.5 403.1v8.8M555.1 406.5h8.8M559.5 402.1v8.8M555.1 404.5h8.8M559.5 400.1v8.8M553.1 406.5h8.8M557.5 402.1v8.8M558.1 405.5h8.8M562.5 401.1v8.8M559.1 406.5h8.8M563.5 402.1v8.8M556.1 406.5h8.8M560.5 402.1v8.8M562.1 406.5h8.8M566.5 402.1v8.8M563.1 404.5h8.8M567.5 400.1v8.8M562.1 407.5h8.8M566.5 403.1v8.8M565.1 407.5h8.8M569.5 403.1v8.8M564.1 405.5h8.8M568.5 401.1v8.8M564.1 407.5h8.8M568.5 403.1v8.8M567.1 405.5h8.8M571.5 401.1v8.8M571.1 406.5h8.8M575.5 402.1v8.8M568.1 405.5h8.8M572.5 401.1v8.8M569.1 404.5h8.8M573.5 400.1v8.8M572.1 405.5h8.8M576.5 401.1v8.8M574.1 406.5h8.8M578.5 402.1v8.8M574.1 404.5h8.8M578.5 400.1v8.8M576.1 407.5h8.8M580.5 403.1v8.8M584.1 407.5h8.8M588.5 403.1v8.8M590.1 405.5h8.8M594.5 401.1v8.8M589.1 405.5h8.8M593.5 401.1v8.8M595.1 407.5h8.8M599.5 403.1v8.8M616.1 407.5h8.8M620.5 403.1v8.8M480.1 410.5h8.8M484.5 406.1v8.8M492.1 408.5h8.8M496.5 404.1v8.8M503.1 408.5h8.8M507.5 404.1v8.8M500.1 411.5h8.8M504.5 407.1v8.8M505.1 408.5h8.8M509.5 404.1v8.8M511.1 411.5h8.8M515.5 407.1v8.8M509.1 409.5h8.8M513.5 405.1v8.8M517.1 410.5h8.8M521.5 406.1v8.8M516.1 408.5h8.8M520.5 404.1v8.8M518.1 410.5h8.8M522.5 406.1v8.8M524.1 410.5h8.8M528.5 406.1v8.8M526.1 408.5h8.8M530.5 404.1v8.8M529.1 408.5h8.8M533.5 404.1v8.8M531.1 410.5h8.8M535.5 406.1v8.8M530.1 408.5h8.8M534.5 404.1v8.8M533.1 410.5h8.8M537.5 406.1v8.8M533.1 411.5h8.8M537.5 407.1v8.8M537.1 409.5h8.8M541.5 405.1v8.8M536.1 411.5h8.8M540.5 407.1v8.8M536.1 408.5h8.8M540.5 404.1v8.8M545.1 409.5h8.8M549.5 405.1v8.8M546.1 409.5h8.8M550.5 405.1v8.8M546.1 410.5h8.8M550.5 406.1v8.8M548.1 411.5h8.8M552.5 407.1v8.8M550.1 411.5h8.8M554.5 407.1v8.8M549.1 409.5h8.8M553.5 405.1v8.8M549.1 411.5h8.8M553.5 407.1v8.8M559.1 410.5h8.8M563.5 406.1v8.8M556.1 409.5h8.8M560.5 405.1v8.8M557.1 409.5h8.8M561.5 405.1v8.8M562.1 411.5h8.8M566.5 407.1v8.8M564.1 409.5h8.8M568.5 405.1v8.8M567.1 409.5h8.8M571.5 405.1v8.8M565.1 408.5h8.8M569.5 404.1v8.8M567.1 408.5h8.8M571.5 404.1v8.8M570.1 408.5h8.8M574.5 404.1v8.8M570.1 410.5h8.8M574.5 406.1v8.8M568.1 411.5h8.8M572.5 407.1v8.8M574.1 411.5h8.8M578.5 407.1v8.8M574.1 408.5h8.8M578.5 404.1v8.8M578.1 411.5h8.8M582.5 407.1v8.8M481.1 412.5h8.8M485.5 408.1v8.8M502.1 415.5h8.8M506.5 411.1v8.8M505.1 414.5h8.8M509.5 410.1v8.8M508.1 414.5h8.8M512.5 410.1v8.8M510.1 414.5h8.8M514.5 410.1v8.8M513.1 413.5h8.8M517.5 409.1v8.8M519.1 415.5h8.8M523.5 411.1v8.8M517.1 413.5h8.8M521.5 409.1v8.8M520.1 415.5h8.8M524.5 411.1v8.8M523.1 414.5h8.8M527.5 410.1v8.8M526.1 413.5h8.8M530.5 409.1v8.8M525.1 415.5h8.8M529.5 411.1v8.8M526.1 412.5h8.8M530.5 408.1v8.8M530.1 414.5h8.8M534.5 410.1v8.8M529.1 413.5h8.8M533.5 409.1v8.8M534.1 414.5h8.8M538.5 410.1v8.8M537.1 415.5h8.8M541.5 411.1v8.8M539.1 414.5h8.8M543.5 410.1v8.8M539.1 415.5h8.8M543.5 411.1v8.8M541.1 413.5h8.8M545.5 409.1v8.8M542.1 412.5h8.8M546.5 408.1v8.8M540.1 415.5h8.8M544.5 411.1v8.8M543.1 413.5h8.8M547.5 409.1v8.8M543.1 415.5h8.8M547.5 411.1v8.8M541.1 415.5h8.8M545.5 411.1v8.8M540.1 413.5h8.8M544.5 409.1v8.8M547.1 414.5h8.8M551.5 410.1v8.8M551.1 415.5h8.8M555.5 411.1v8.8M555.1 413.5h8.8M559.5 409.1v8.8M559.1 412.5h8.8M563.5 408.1v8.8M557.1 412.5h8.8M561.5 408.1v8.8M563.1 414.5h8.8M567.5 410.1v8.8M562.1 414.5h8.8M566.5 410.1v8.8M560.1 414.5h8.8M564.5 410.1v8.8M563.1 415.5h8.8M567.5 411.1v8.8M564.1 412.5h8.8M568.5 408.1v8.8M567.1 414.5h8.8M571.5 410.1v8.8M569.1 412.5h8.8M573.5 408.1v8.8M571.1 415.5h8.8M575.5 411.1v8.8M575.1 415.5h8.8M579.5 411.1v8.8M573.1 414.5h8.8M577.5 410.1v8.8M573.1 412.5h8.8M577.5 408.1v8.8M580.1 412.5h8.8M584.5 408.1v8.8M581.1 414.5h8.8M585.5 410.1v8.8M586.1 412.5h8.8M590.5 408.1v8.8M584.1 413.5h8.8M588.5 409.1v8.8M591.1 413.5h8.8M595.5 409.1v8.8M494.1 417.5h8.8M498.5 413.1v8.8M497.1 418.5h8.8M501.5 414.1v8.8M510.1 416.5h8.8M514.5 412.1v8.8M509.1 419.5h8.8M513.5 415.1v8.8M518.1 418.5h8.8M522.5 414.1v8.8M523.1 418.5h8.8M527.5 414.1v8.8M526.1 419.5h8.8M530.5 415.1v8.8M525.1 419.5h8.8M529.5 415.1v8.8M525.1 416.5h8.8M529.5 412.1v8.8M524.1 417.5h8.8M528.5 413.1v8.8M529.1 418.5h8.8M533.5 414.1v8.8M528.1 417.5h8.8M532.5 413.1v8.8M531.1 416.5h8.8M535.5 412.1v8.8M534.1 418.5h8.8M538.5 414.1v8.8M533.1 419.5h8.8M537.5 415.1v8.8M534.1 419.5h8.8M538.5 415.1v8.8M539.1 419.5h8.8M543.5 415.1v8.8M538.1 418.5h8.8M542.5 414.1v8.8M539.1 416.5h8.8M543.5 412.1v8.8M543.1 419.5h8.8M547.5 415.1v8.8M542.1 419.5h8.8M546.5 415.1v8.8M540.1 417.5h8.8M544.5 413.1v8.8M547.1 418.5h8.8M551.5 414.1v8.8M545.1 417.5h8.8M549.5 413.1v8.8M549.1 417.5h8.8M553.5 413.1v8.8M548.1 418.5h8.8M552.5 414.1v8.8M551.1 418.5h8.8M555.5 414.1v8.8M557.1 417.5h8.8M561.5 413.1v8.8M558.1 419.5h8.8M562.5 415.1v8.8M558.1 418.5h8.8M562.5 414.1v8.8M565.1 418.5h8.8M569.5 414.1v8.8M564.1 419.5h8.8M568.5 415.1v8.8M568.1 418.5h8.8M572.5 414.1v8.8M570.1 417.5h8.8M574.5 413.1v8.8M569.1 419.5h8.8M573.5 415.1v8.8M568.1 416.5h8.8M572.5 412.1v8.8M572.1 416.5h8.8M576.5 412.1v8.8M576.1 418.5h8.8M580.5 414.1v8.8M583.1 417.5h8.8M587.5 413.1v8.8M587.1 416.5h8.8M591.5 412.1v8.8M590.1 416.5h8.8M594.5 412.1v8.8M591.1 418.5h8.8M595.5 414.1v8.8M593.1 418.5h8.8M597.5 414.1v8.8M600.1 419.5h8.8M604.5 415.1v8.8M497.1 422.5h8.8M501.5 418.1v8.8M503.1 420.5h8.8M507.5 416.1v8.8M507.1 421.5h8.8M511.5 417.1v8.8M509.1 420.5h8.8M513.5 416.1v8.8M513.1 422.5h8.8M517.5 418.1v8.8M512.1 422.5h8.8M516.5 418.1v8.8M516.1 423.5h8.8M520.5 419.1v8.8M521.1 420.5h8.8M525.5 416.1v8.8M523.1 421.5h8.8M527.5 417.1v8.8M525.1 421.5h8.8M529.5 417.1v8.8M527.1 423.5h8.8M531.5 419.1v8.8M524.1 423.5h8.8M528.5 419.1v8.8M530.1 423.5h8.8M534.5 419.1v8.8M531.1 421.5h8.8M535.5 417.1v8.8M532.1 420.5h8.8M536.5 416.1v8.8M532.1 422.5h8.8M536.5 418.1v8.8M534.1 421.5h8.8M538.5 417.1v8.8M534.1 420.5h8.8M538.5 416.1v8.8M538.1 420.5h8.8M542.5 416.1v8.8M536.1 423.5h8.8M540.5 419.1v8.8M539.1 423.5h8.8M543.5 419.1v8.8M541.1 423.5h8.8M545.5 419.1v8.8M547.1 422.5h8.8M551.5 418.1v8.8M544.1 420.5h8.8M548.5 416.1v8.8M545.1 421.5h8.8M549.5 417.1v8.8M544.1 421.5h8.8M548.5 417.1v8.8M551.1 422.5h8.8M555.5 418.1v8.8M548.1 420.5h8.8M552.5 416.1v8.8M549.1 422.5h8.8M553.5 418.1v8.8M552.1 423.5h8.8M556.5 419.1v8.8M554.1 421.5h8.8M558.5 417.1v8.8M552.1 420.5h8.8M556.5 416.1v8.8M553.1 420.5h8.8M557.5 416.1v8.8M555.1 420.5h8.8M559.5 416.1v8.8M553.1 421.5h8.8M557.5 417.1v8.8M557.1 420.5h8.8M561.5 416.1v8.8M559.1 422.5h8.8M563.5 418.1v8.8M556.1 421.5h8.8M560.5 417.1v8.8M562.1 422.5h8.8M566.5 418.1v8.8M560.1 421.5h8.8M564.5 417.1v8.8M563.1 422.5h8.8M567.5 418.1v8.8M567.1 423.5h8.8M571.5 419.1v8.8M565.1 422.5h8.8M569.5 418.1v8.8M566.1 420.5h8.8M570.5 416.1v8.8M564.1 423.5h8.8M568.5 419.1v8.8M570.1 420.5h8.8M574.5 416.1v8.8M569.1 420.5h8.8M573.5 416.1v8.8M575.1 421.5h8.8M579.5 417.1v8.8M574.1 420.5h8.8M578.5 416.1v8.8M578.1 421.5h8.8M582.5 417.1v8.8M581.1 421.5h8.8M585.5 417.1v8.8M583.1 422.5h8.8M587.5 418.1v8.8M591.1 422.5h8.8M595.5 418.1v8.8M590.1 420.5h8.8M594.5 416.1v8.8M590.1 423.5h8.8M594.5 419.1v8.8M593.1 423.5h8.8M597.5 419.1v8.8M593.1 420.5h8.8M597.5 416.1v8.8M596.1 422.5h8.8M600.5 418.1v8.8M616.1 421.5h8.8M620.5 417.1v8.8M483.1 425.5h8.8M487.5 421.1v8.8M498.1 427.5h8.8M502.5 423.1v8.8M505.1 425.5h8.8M509.5 421.1v8.8M518.1 426.5h8.8M522.5 422.1v8.8M519.1 425.5h8.8M523.5 421.1v8.8M517.1 424.5h8.8M521.5 420.1v8.8M521.1 425.5h8.8M525.5 421.1v8.8M523.1 427.5h8.8M527.5 423.1v8.8M523.1 425.5h8.8M527.5 421.1v8.8M521.1 426.5h8.8M525.5 422.1v8.8M525.1 426.5h8.8M529.5 422.1v8.8M526.1 425.5h8.8M530.5 421.1v8.8M527.1 424.5h8.8M531.5 420.1v8.8M528.1 427.5h8.8M532.5 423.1v8.8M532.1 424.5h8.8M536.5 420.1v8.8M535.1 425.5h8.8M539.5 421.1v8.8M541.1 425.5h8.8M545.5 421.1v8.8M540.1 426.5h8.8M544.5 422.1v8.8M542.1 424.5h8.8M546.5 420.1v8.8M543.1 424.5h8.8M547.5 420.1v8.8M541.1 424.5h8.8M545.5 420.1v8.8M547.1 425.5h8.8M551.5 421.1v8.8M546.1 426.5h8.8M550.5 422.1v8.8M548.1 426.5h8.8M552.5 422.1v8.8M551.1 425.5h8.8M555.5 421.1v8.8M550.1 426.5h8.8M554.5 422.1v8.8M556.1 427.5h8.8M560.5 423.1v8.8M558.1 425.5h8.8M562.5 421.1v8.8M559.1 424.5h8.8M563.5 420.1v8.8M562.1 425.5h8.8M566.5 421.1v8.8M562.1 426.5h8.8M566.5 422.1v8.8M560.1 427.5h8.8M564.5 423.1v8.8M561.1 425.5h8.8M565.5 421.1v8.8M566.1 424.5h8.8M570.5 420.1v8.8M564.1 424.5h8.8M568.5 420.1v8.8M566.1 427.5h8.8M570.5 423.1v8.8M565.1 427.5h8.8M569.5 423.1v8.8M564.1 426.5h8.8M568.5 422.1v8.8M565.1 426.5h8.8M569.5 422.1v8.8M571.1 427.5h8.8M575.5 423.1v8.8M570.1 427.5h8.8M574.5 423.1v8.8M569.1 425.5h8.8M573.5 421.1v8.8M573.1 425.5h8.8M577.5 421.1v8.8M573.1 427.5h8.8M577.5 423.1v8.8M575.1 426.5h8.8M579.5 422.1v8.8M572.1 425.5h8.8M576.5 421.1v8.8M574.1 427.5h8.8M578.5 423.1v8.8M572.1 427.5h8.8M576.5 423.1v8.8M575.1 427.5h8.8M579.5 423.1v8.8M579.1 426.5h8.8M583.5 422.1v8.8M576.1 424.5h8.8M580.5 420.1v8.8M579.1 424.5h8.8M583.5 420.1v8.8M577.1 426.5h8.8M581.5 422.1v8.8M583.1 425.5h8.8M587.5 421.1v8.8M582.1 424.5h8.8M586.5 420.1v8.8M585.1 425.5h8.8M589.5 421.1v8.8M584.1 426.5h8.8M588.5 422.1v8.8M584.1 425.5h8.8M588.5 421.1v8.8M588.1 427.5h8.8M592.5 423.1v8.8M590.1 425.5h8.8M594.5 421.1v8.8M616.1 424.5h8.8M620.5 420.1v8.8M616.1 426.5h8.8M620.5 422.1v8.8M483.1 428.5h8.8M487.5 424.1v8.8M481.1 429.5h8.8M485.5 425.1v8.8M493.1 431.5h8.8M497.5 427.1v8.8M499.1 428.5h8.8M503.5 424.1v8.8M501.1 428.5h8.8M505.5 424.1v8.8M502.1 430.5h8.8M506.5 426.1v8.8M512.1 430.5h8.8M516.5 426.1v8.8M513.1 430.5h8.8M517.5 426.1v8.8M514.1 431.5h8.8M518.5 427.1v8.8M517.1 429.5h8.8M521.5 425.1v8.8M520.1 429.5h8.8M524.5 425.1v8.8M526.1 428.5h8.8M530.5 424.1v8.8M526.1 430.5h8.8M530.5 426.1v8.8M529.1 429.5h8.8M533.5 425.1v8.8M528.1 429.5h8.8M532.5 425.1v8.8M531.1 428.5h8.8M535.5 424.1v8.8M530.1 429.5h8.8M534.5 425.1v8.8M533.1 430.5h8.8M537.5 426.1v8.8M534.1 430.5h8.8M538.5 426.1v8.8M533.1 429.5h8.8M537.5 425.1v8.8M537.1 430.5h8.8M541.5 426.1v8.8M538.1 428.5h8.8M542.5 424.1v8.8M536.1 430.5h8.8M540.5 426.1v8.8M536.1 429.5h8.8M540.5 425.1v8.8M540.1 431.5h8.8M544.5 427.1v8.8M542.1 428.5h8.8M546.5 424.1v8.8M540.1 429.5h8.8M544.5 425.1v8.8M547.1 428.5h8.8M551.5 424.1v8.8M544.1 431.5h8.8M548.5 427.1v8.8M550.1 431.5h8.8M554.5 427.1v8.8M550.1 430.5h8.8M554.5 426.1v8.8M555.1 428.5h8.8M559.5 424.1v8.8M552.1 429.5h8.8M556.5 425.1v8.8M554.1 428.5h8.8M558.5 424.1v8.8M552.1 430.5h8.8M556.5 426.1v8.8M553.1 428.5h8.8M557.5 424.1v8.8M558.1 431.5h8.8M562.5 427.1v8.8M560.1 431.5h8.8M564.5 427.1v8.8M562.1 429.5h8.8M566.5 425.1v8.8M561.1 431.5h8.8M565.5 427.1v8.8M565.1 428.5h8.8M569.5 424.1v8.8M566.1 430.5h8.8M570.5 426.1v8.8M569.1 429.5h8.8M573.5 425.1v8.8M571.1 431.5h8.8M575.5 427.1v8.8M571.1 429.5h8.8M575.5 425.1v8.8M573.1 430.5h8.8M577.5 426.1v8.8M574.1 431.5h8.8M578.5 427.1v8.8M575.1 430.5h8.8M579.5 426.1v8.8M573.1 429.5h8.8M577.5 425.1v8.8M576.1 428.5h8.8M580.5 424.1v8.8M579.1 429.5h8.8M583.5 425.1v8.8M583.1 429.5h8.8M587.5 425.1v8.8M583.1 431.5h8.8M587.5 427.1v8.8M585.1 431.5h8.8M589.5 427.1v8.8M586.1 431.5h8.8M590.5 427.1v8.8M591.1 428.5h8.8M595.5 424.1v8.8M590.1 431.5h8.8M594.5 427.1v8.8M594.1 428.5h8.8M598.5 424.1v8.8M592.1 431.5h8.8M596.5 427.1v8.8M594.1 431.5h8.8M598.5 427.1v8.8M604.1 430.5h8.8M608.5 426.1v8.8M608.1 430.5h8.8M612.5 426.1v8.8M612.1 430.5h8.8M616.5 426.1v8.8M617.1 431.5h8.8M621.5 427.1v8.8M626.1 428.5h8.8M630.5 424.1v8.8M639.1 429.5h8.8M643.5 425.1v8.8M649.1 429.5h8.8M653.5 425.1v8.8M502.1 433.5h8.8M506.5 429.1v8.8M501.1 433.5h8.8M505.5 429.1v8.8M506.1 435.5h8.8M510.5 431.1v8.8M510.1 432.5h8.8M514.5 428.1v8.8M508.1 433.5h8.8M512.5 429.1v8.8M514.1 432.5h8.8M518.5 428.1v8.8M520.1 433.5h8.8M524.5 429.1v8.8M524.1 435.5h8.8M528.5 431.1v8.8M524.1 433.5h8.8M528.5 429.1v8.8M526.1 434.5h8.8M530.5 430.1v8.8M525.1 432.5h8.8M529.5 428.1v8.8M529.1 432.5h8.8M533.5 428.1v8.8M531.1 433.5h8.8M535.5 429.1v8.8M535.1 432.5h8.8M539.5 428.1v8.8M534.1 434.5h8.8M538.5 430.1v8.8M535.1 435.5h8.8M539.5 431.1v8.8M537.1 435.5h8.8M541.5 431.1v8.8M543.1 435.5h8.8M547.5 431.1v8.8M542.1 432.5h8.8M546.5 428.1v8.8M544.1 432.5h8.8M548.5 428.1v8.8M545.1 433.5h8.8M549.5 429.1v8.8M547.1 434.5h8.8M551.5 430.1v8.8M548.1 432.5h8.8M552.5 428.1v8.8M549.1 434.5h8.8M553.5 430.1v8.8M551.1 433.5h8.8M555.5 429.1v8.8M554.1 435.5h8.8M558.5 431.1v8.8M554.1 433.5h8.8M558.5 429.1v8.8M556.1 434.5h8.8M560.5 430.1v8.8M558.1 434.5h8.8M562.5 430.1v8.8M557.1 433.5h8.8M561.5 429.1v8.8M558.1 433.5h8.8M562.5 429.1v8.8M563.1 434.5h8.8M567.5 430.1v8.8M560.1 434.5h8.8M564.5 430.1v8.8M563.1 433.5h8.8M567.5 429.1v8.8M565.1 435.5h8.8M569.5 431.1v8.8M564.1 434.5h8.8M568.5 430.1v8.8M568.1 434.5h8.8M572.5 430.1v8.8M574.1 434.5h8.8M578.5 430.1v8.8M575.1 435.5h8.8M579.5 431.1v8.8M575.1 432.5h8.8M579.5 428.1v8.8M576.1 433.5h8.8M580.5 429.1v8.8M582.1 434.5h8.8M586.5 430.1v8.8M586.1 432.5h8.8M590.5 428.1v8.8M591.1 434.5h8.8M595.5 430.1v8.8M593.1 433.5h8.8M597.5 429.1v8.8M595.1 435.5h8.8M599.5 431.1v8.8M597.1 433.5h8.8M601.5 429.1v8.8M603.1 432.5h8.8M607.5 428.1v8.8M609.1 432.5h8.8M613.5 428.1v8.8M629.1 433.5h8.8M633.5 429.1v8.8M635.1 433.5h8.8M639.5 429.1v8.8M494.1 437.5h8.8M498.5 433.1v8.8M499.1 439.5h8.8M503.5 435.1v8.8M498.1 436.5h8.8M502.5 432.1v8.8M510.1 439.5h8.8M514.5 435.1v8.8M514.1 439.5h8.8M518.5 435.1v8.8M519.1 438.5h8.8M523.5 434.1v8.8M517.1 439.5h8.8M521.5 435.1v8.8M522.1 436.5h8.8M526.5 432.1v8.8M521.1 439.5h8.8M525.5 435.1v8.8M526.1 438.5h8.8M530.5 434.1v8.8M524.1 436.5h8.8M528.5 432.1v8.8M527.1 438.5h8.8M531.5 434.1v8.8M525.1 437.5h8.8M529.5 433.1v8.8M530.1 437.5h8.8M534.5 433.1v8.8M528.1 439.5h8.8M532.5 435.1v8.8M535.1 439.5h8.8M539.5 435.1v8.8M539.1 436.5h8.8M543.5 432.1v8.8M539.1 437.5h8.8M543.5 433.1v8.8M536.1 439.5h8.8M540.5 435.1v8.8M543.1 437.5h8.8M547.5 433.1v8.8M543.1 438.5h8.8M547.5 434.1v8.8M540.1 438.5h8.8M544.5 434.1v8.8M542.1 437.5h8.8M546.5 433.1v8.8M542.1 438.5h8.8M546.5 434.1v8.8M544.1 437.5h8.8M548.5 433.1v8.8M546.1 436.5h8.8M550.5 432.1v8.8M556.1 437.5h8.8M560.5 433.1v8.8M556.1 439.5h8.8M560.5 435.1v8.8M559.1 438.5h8.8M563.5 434.1v8.8M559.1 439.5h8.8M563.5 435.1v8.8M562.1 439.5h8.8M566.5 435.1v8.8M562.1 437.5h8.8M566.5 433.1v8.8M564.1 437.5h8.8M568.5 433.1v8.8M564.1 439.5h8.8M568.5 435.1v8.8M569.1 436.5h8.8M573.5 432.1v8.8M570.1 439.5h8.8M574.5 435.1v8.8M575.1 436.5h8.8M579.5 432.1v8.8M573.1 438.5h8.8M577.5 434.1v8.8M574.1 436.5h8.8M578.5 432.1v8.8M576.1 438.5h8.8M580.5 434.1v8.8M576.1 436.5h8.8M580.5 432.1v8.8M581.1 438.5h8.8M585.5 434.1v8.8M582.1 439.5h8.8M586.5 435.1v8.8M586.1 437.5h8.8M590.5 433.1v8.8M589.1 436.5h8.8M593.5 432.1v8.8M590.1 438.5h8.8M594.5 434.1v8.8M593.1 436.5h8.8M597.5 432.1v8.8M599.1 439.5h8.8M603.5 435.1v8.8M602.1 438.5h8.8M606.5 434.1v8.8M601.1 438.5h8.8M605.5 434.1v8.8M600.1 436.5h8.8M604.5 432.1v8.8M611.1 438.5h8.8M615.5 434.1v8.8M610.1 436.5h8.8M614.5 432.1v8.8M608.1 436.5h8.8M612.5 432.1v8.8M628.1 439.5h8.8M632.5 435.1v8.8M644.1 437.5h8.8M648.5 433.1v8.8M489.1 443.5h8.8M493.5 439.1v8.8M508.1 443.5h8.8M512.5 439.1v8.8M513.1 440.5h8.8M517.5 436.1v8.8M513.1 442.5h8.8M517.5 438.1v8.8M518.1 440.5h8.8M522.5 436.1v8.8M523.1 441.5h8.8M527.5 437.1v8.8M526.1 442.5h8.8M530.5 438.1v8.8M526.1 441.5h8.8M530.5 437.1v8.8M527.1 440.5h8.8M531.5 436.1v8.8M534.1 443.5h8.8M538.5 439.1v8.8M534.1 441.5h8.8M538.5 437.1v8.8M535.1 441.5h8.8M539.5 437.1v8.8M534.1 442.5h8.8M538.5 438.1v8.8M534.1 440.5h8.8M538.5 436.1v8.8M536.1 442.5h8.8M540.5 438.1v8.8M537.1 441.5h8.8M541.5 437.1v8.8M536.1 440.5h8.8M540.5 436.1v8.8M538.1 441.5h8.8M542.5 437.1v8.8M539.1 442.5h8.8M543.5 438.1v8.8M536.1 443.5h8.8M540.5 439.1v8.8M544.1 441.5h8.8M548.5 437.1v8.8M549.1 440.5h8.8M553.5 436.1v8.8M553.1 440.5h8.8M557.5 436.1v8.8M558.1 440.5h8.8M562.5 436.1v8.8M559.1 440.5h8.8M563.5 436.1v8.8M556.1 443.5h8.8M560.5 439.1v8.8M560.1 440.5h8.8M564.5 436.1v8.8M562.1 443.5h8.8M566.5 439.1v8.8M565.1 442.5h8.8M569.5 438.1v8.8M569.1 441.5h8.8M573.5 437.1v8.8M570.1 440.5h8.8M574.5 436.1v8.8M569.1 443.5h8.8M573.5 439.1v8.8M574.1 441.5h8.8M578.5 437.1v8.8M576.1 440.5h8.8M580.5 436.1v8.8M578.1 442.5h8.8M582.5 438.1v8.8M583.1 442.5h8.8M587.5 438.1v8.8M582.1 440.5h8.8M586.5 436.1v8.8M583.1 443.5h8.8M587.5 439.1v8.8M592.1 442.5h8.8M596.5 438.1v8.8M594.1 443.5h8.8M598.5 439.1v8.8M594.1 441.5h8.8M598.5 437.1v8.8M594.1 442.5h8.8M598.5 438.1v8.8M595.1 443.5h8.8M599.5 439.1v8.8M598.1 442.5h8.8M602.5 438.1v8.8M600.1 442.5h8.8M604.5 438.1v8.8M606.1 440.5h8.8M610.5 436.1v8.8M613.1 443.5h8.8M617.5 439.1v8.8M630.1 442.5h8.8M634.5 438.1v8.8M630.1 443.5h8.8M634.5 439.1v8.8M631.1 442.5h8.8M635.5 438.1v8.8M654.1 443.5h8.8M658.5 439.1v8.8M503.1 446.5h8.8M507.5 442.1v8.8M507.1 444.5h8.8M511.5 440.1v8.8M504.1 444.5h8.8M508.5 440.1v8.8M507.1 447.5h8.8M511.5 443.1v8.8M512.1 444.5h8.8M516.5 440.1v8.8M518.1 447.5h8.8M522.5 443.1v8.8M516.1 445.5h8.8M520.5 441.1v8.8M526.1 444.5h8.8M530.5 440.1v8.8M530.1 446.5h8.8M534.5 442.1v8.8M529.1 446.5h8.8M533.5 442.1v8.8M529.1 445.5h8.8M533.5 441.1v8.8M529.1 444.5h8.8M533.5 440.1v8.8M530.1 447.5h8.8M534.5 443.1v8.8M534.1 444.5h8.8M538.5 440.1v8.8M533.1 447.5h8.8M537.5 443.1v8.8M535.1 445.5h8.8M539.5 441.1v8.8M536.1 444.5h8.8M540.5 440.1v8.8M542.1 444.5h8.8M546.5 440.1v8.8M543.1 446.5h8.8M547.5 442.1v8.8M540.1 445.5h8.8M544.5 441.1v8.8M541.1 445.5h8.8M545.5 441.1v8.8M540.1 444.5h8.8M544.5 440.1v8.8M540.1 446.5h8.8M544.5 442.1v8.8M545.1 447.5h8.8M549.5 443.1v8.8M544.1 444.5h8.8M548.5 440.1v8.8M547.1 445.5h8.8M551.5 441.1v8.8M551.1 445.5h8.8M555.5 441.1v8.8M552.1 447.5h8.8M556.5 443.1v8.8M555.1 445.5h8.8M559.5 441.1v8.8M553.1 445.5h8.8M557.5 441.1v8.8M557.1 446.5h8.8M561.5 442.1v8.8M556.1 447.5h8.8M560.5 443.1v8.8M557.1 444.5h8.8M561.5 440.1v8.8M557.1 447.5h8.8M561.5 443.1v8.8M561.1 444.5h8.8M565.5 440.1v8.8M560.1 446.5h8.8M564.5 442.1v8.8M567.1 446.5h8.8M571.5 442.1v8.8M565.1 445.5h8.8M569.5 441.1v8.8M566.1 446.5h8.8M570.5 442.1v8.8M565.1 447.5h8.8M569.5 443.1v8.8M564.1 445.5h8.8M568.5 441.1v8.8M571.1 447.5h8.8M575.5 443.1v8.8M572.1 444.5h8.8M576.5 440.1v8.8M574.1 446.5h8.8M578.5 442.1v8.8M578.1 444.5h8.8M582.5 440.1v8.8M579.1 446.5h8.8M583.5 442.1v8.8M579.1 444.5h8.8M583.5 440.1v8.8M582.1 445.5h8.8M586.5 441.1v8.8M583.1 444.5h8.8M587.5 440.1v8.8M585.1 445.5h8.8M589.5 441.1v8.8M589.1 446.5h8.8M593.5 442.1v8.8M595.1 447.5h8.8M599.5 443.1v8.8M597.1 444.5h8.8M601.5 440.1v8.8M611.1 445.5h8.8M615.5 441.1v8.8M623.1 446.5h8.8M627.5 442.1v8.8M639.1 446.5h8.8M643.5 442.1v8.8M654.1 444.5h8.8M658.5 440.1v8.8M499.1 448.5h8.8M503.5 444.1v8.8M500.1 448.5h8.8M504.5 444.1v8.8M504.1 451.5h8.8M508.5 447.1v8.8M506.1 450.5h8.8M510.5 446.1v8.8M509.1 448.5h8.8M513.5 444.1v8.8M512.1 450.5h8.8M516.5 446.1v8.8M522.1 449.5h8.8M526.5 445.1v8.8M523.1 448.5h8.8M527.5 444.1v8.8M525.1 448.5h8.8M529.5 444.1v8.8M527.1 450.5h8.8M531.5 446.1v8.8M530.1 450.5h8.8M534.5 446.1v8.8M534.1 449.5h8.8M538.5 445.1v8.8M538.1 448.5h8.8M542.5 444.1v8.8M537.1 448.5h8.8M541.5 444.1v8.8M543.1 448.5h8.8M547.5 444.1v8.8M542.1 450.5h8.8M546.5 446.1v8.8M546.1 449.5h8.8M550.5 445.1v8.8M547.1 449.5h8.8M551.5 445.1v8.8M548.1 448.5h8.8M552.5 444.1v8.8M549.1 451.5h8.8M553.5 447.1v8.8M550.1 448.5h8.8M554.5 444.1v8.8M550.1 449.5h8.8M554.5 445.1v8.8M551.1 451.5h8.8M555.5 447.1v8.8M555.1 451.5h8.8M559.5 447.1v8.8M554.1 451.5h8.8M558.5 447.1v8.8M559.1 449.5h8.8M563.5 445.1v8.8M559.1 451.5h8.8M563.5 447.1v8.8M563.1 451.5h8.8M567.5 447.1v8.8M567.1 451.5h8.8M571.5 447.1v8.8M566.1 451.5h8.8M570.5 447.1v8.8M570.1 451.5h8.8M574.5 447.1v8.8M573.1 450.5h8.8M577.5 446.1v8.8M577.1 451.5h8.8M581.5 447.1v8.8M576.1 448.5h8.8M580.5 444.1v8.8M582.1 451.5h8.8M586.5 447.1v8.8M585.1 451.5h8.8M589.5 447.1v8.8M585.1 450.5h8.8M589.5 446.1v8.8M587.1 450.5h8.8M591.5 446.1v8.8M590.1 449.5h8.8M594.5 445.1v8.8M595.1 448.5h8.8M599.5 444.1v8.8M597.1 448.5h8.8M601.5 444.1v8.8M600.1 450.5h8.8M604.5 446.1v8.8M604.1 449.5h8.8M608.5 445.1v8.8M609.1 448.5h8.8M613.5 444.1v8.8M610.1 448.5h8.8M614.5 444.1v8.8M616.1 448.5h8.8M620.5 444.1v8.8M631.1 449.5h8.8M635.5 445.1v8.8M630.1 450.5h8.8M634.5 446.1v8.8M642.1 449.5h8.8M646.5 445.1v8.8M648.1 449.5h8.8M652.5 445.1v8.8M476.1 453.5h8.8M480.5 449.1v8.8M503.1 455.5h8.8M507.5 451.1v8.8M501.1 454.5h8.8M505.5 450.1v8.8M500.1 452.5h8.8M504.5 448.1v8.8M509.1 454.5h8.8M513.5 450.1v8.8M517.1 455.5h8.8M521.5 451.1v8.8M516.1 454.5h8.8M520.5 450.1v8.8M521.1 454.5h8.8M525.5 450.1v8.8M520.1 453.5h8.8M524.5 449.1v8.8M522.1 453.5h8.8M526.5 449.1v8.8M528.1 454.5h8.8M532.5 450.1v8.8M531.1 454.5h8.8M535.5 450.1v8.8M534.1 453.5h8.8M538.5 449.1v8.8M532.1 453.5h8.8M536.5 449.1v8.8M538.1 454.5h8.8M542.5 450.1v8.8M536.1 454.5h8.8M540.5 450.1v8.8M539.1 452.5h8.8M543.5 448.1v8.8M540.1 452.5h8.8M544.5 448.1v8.8M540.1 455.5h8.8M544.5 451.1v8.8M543.1 452.5h8.8M547.5 448.1v8.8M541.1 454.5h8.8M545.5 450.1v8.8M542.1 454.5h8.8M546.5 450.1v8.8M546.1 455.5h8.8M550.5 451.1v8.8M547.1 455.5h8.8M551.5 451.1v8.8M549.1 452.5h8.8M553.5 448.1v8.8M550.1 453.5h8.8M554.5 449.1v8.8M550.1 454.5h8.8M554.5 450.1v8.8M553.1 452.5h8.8M557.5 448.1v8.8M555.1 453.5h8.8M559.5 449.1v8.8M554.1 453.5h8.8M558.5 449.1v8.8M558.1 455.5h8.8M562.5 451.1v8.8M556.1 452.5h8.8M560.5 448.1v8.8M563.1 452.5h8.8M567.5 448.1v8.8M567.1 454.5h8.8M571.5 450.1v8.8M569.1 453.5h8.8M573.5 449.1v8.8M573.1 452.5h8.8M577.5 448.1v8.8M572.1 452.5h8.8M576.5 448.1v8.8M574.1 453.5h8.8M578.5 449.1v8.8M579.1 453.5h8.8M583.5 449.1v8.8M577.1 452.5h8.8M581.5 448.1v8.8M579.1 455.5h8.8M583.5 451.1v8.8M578.1 455.5h8.8M582.5 451.1v8.8M580.1 454.5h8.8M584.5 450.1v8.8M582.1 454.5h8.8M586.5 450.1v8.8M586.1 455.5h8.8M590.5 451.1v8.8M584.1 453.5h8.8M588.5 449.1v8.8M588.1 454.5h8.8M592.5 450.1v8.8M590.1 455.5h8.8M594.5 451.1v8.8M595.1 453.5h8.8M599.5 449.1v8.8M594.1 453.5h8.8M598.5 449.1v8.8M597.1 453.5h8.8M601.5 449.1v8.8M596.1 453.5h8.8M600.5 449.1v8.8M596.1 455.5h8.8M600.5 451.1v8.8M597.1 455.5h8.8M601.5 451.1v8.8M601.1 454.5h8.8M605.5 450.1v8.8M603.1 454.5h8.8M607.5 450.1v8.8M600.1 455.5h8.8M604.5 451.1v8.8M602.1 454.5h8.8M606.5 450.1v8.8M602.1 453.5h8.8M606.5 449.1v8.8M607.1 455.5h8.8M611.5 451.1v8.8M615.1 453.5h8.8M619.5 449.1v8.8M621.1 452.5h8.8M625.5 448.1v8.8M636.1 452.5h8.8M640.5 448.1v8.8M639.1 455.5h8.8M643.5 451.1v8.8M642.1 453.5h8.8M646.5 449.1v8.8M482.1 457.5h8.8M486.5 453.1v8.8M490.1 459.5h8.8M494.5 455.1v8.8M495.1 457.5h8.8M499.5 453.1v8.8M499.1 459.5h8.8M503.5 455.1v8.8M503.1 457.5h8.8M507.5 453.1v8.8M504.1 456.5h8.8M508.5 452.1v8.8M504.1 457.5h8.8M508.5 453.1v8.8M512.1 456.5h8.8M516.5 452.1v8.8M521.1 459.5h8.8M525.5 455.1v8.8M527.1 458.5h8.8M531.5 454.1v8.8M528.1 458.5h8.8M532.5 454.1v8.8M531.1 456.5h8.8M535.5 452.1v8.8M528.1 457.5h8.8M532.5 453.1v8.8M530.1 459.5h8.8M534.5 455.1v8.8M534.1 457.5h8.8M538.5 453.1v8.8M533.1 459.5h8.8M537.5 455.1v8.8M532.1 457.5h8.8M536.5 453.1v8.8M536.1 458.5h8.8M540.5 454.1v8.8M536.1 457.5h8.8M540.5 453.1v8.8M539.1 457.5h8.8M543.5 453.1v8.8M536.1 456.5h8.8M540.5 452.1v8.8M544.1 458.5h8.8M548.5 454.1v8.8M546.1 457.5h8.8M550.5 453.1v8.8M544.1 459.5h8.8M548.5 455.1v8.8M549.1 458.5h8.8M553.5 454.1v8.8M548.1 458.5h8.8M552.5 454.1v8.8M554.1 456.5h8.8M558.5 452.1v8.8M555.1 459.5h8.8M559.5 455.1v8.8M552.1 458.5h8.8M556.5 454.1v8.8M556.1 459.5h8.8M560.5 455.1v8.8M559.1 458.5h8.8M563.5 454.1v8.8M558.1 459.5h8.8M562.5 455.1v8.8M559.1 459.5h8.8M563.5 455.1v8.8M561.1 457.5h8.8M565.5 453.1v8.8M567.1 457.5h8.8M571.5 453.1v8.8M565.1 456.5h8.8M569.5 452.1v8.8M566.1 457.5h8.8M570.5 453.1v8.8M568.1 458.5h8.8M572.5 454.1v8.8M570.1 456.5h8.8M574.5 452.1v8.8M570.1 457.5h8.8M574.5 453.1v8.8M572.1 459.5h8.8M576.5 455.1v8.8M573.1 458.5h8.8M577.5 454.1v8.8M577.1 456.5h8.8M581.5 452.1v8.8M579.1 456.5h8.8M583.5 452.1v8.8M583.1 457.5h8.8M587.5 453.1v8.8M580.1 458.5h8.8M584.5 454.1v8.8M583.1 459.5h8.8M587.5 455.1v8.8M584.1 458.5h8.8M588.5 454.1v8.8M584.1 457.5h8.8M588.5 453.1v8.8M585.1 458.5h8.8M589.5 454.1v8.8M595.1 459.5h8.8M599.5 455.1v8.8M596.1 459.5h8.8M600.5 455.1v8.8M603.1 457.5h8.8M607.5 453.1v8.8M602.1 458.5h8.8M606.5 454.1v8.8M613.1 456.5h8.8M617.5 452.1v8.8M615.1 459.5h8.8M619.5 455.1v8.8M613.1 459.5h8.8M617.5 455.1v8.8M614.1 456.5h8.8M618.5 452.1v8.8M625.1 459.5h8.8M629.5 455.1v8.8M625.1 456.5h8.8M629.5 452.1v8.8M631.1 459.5h8.8M635.5 455.1v8.8M651.1 458.5h8.8M655.5 454.1v8.8M440.1 456.5h8.8M444.5 452.1v8.8M569.1 457.5h8.8M573.5 453.1v8.8M570.1 455.5h8.8M574.5 451.1v8.8M522.1 456.5h8.8M526.5 452.1v8.8M466.1 455.5h8.8M470.5 451.1v8.8M572.1 458.5h8.8M576.5 454.1v8.8M524.1 457.5h8.8M528.5 453.1v8.8M523.1 454.5h8.8M527.5 450.1v8.8M552.1 457.5h8.8M556.5 453.1v8.8M451.1 456.5h8.8M455.5 452.1v8.8M463.1 457.5h8.8M467.5 453.1v8.8M460.1 455.5h8.8M464.5 451.1v8.8M467.1 455.5h8.8M471.5 451.1v8.8M480.1 456.5h8.8M484.5 452.1v8.8M567.1 455.5h8.8M571.5 451.1v8.8M524.1 455.5h8.8M528.5 451.1v8.8M587.1 456.5h8.8M591.5 452.1v8.8M560.1 455.5h8.8M564.5 451.1v8.8M526.1 455.5h8.8M530.5 451.1v8.8M490.1 457.5h8.8M494.5 453.1v8.8M481.1 456.5h8.8M485.5 452.1v8.8M444.1 456.5h8.8M448.5 452.1v8.8M562.1 455.5h8.8M566.5 451.1v8.8M569.1 455.5h8.8M573.5 451.1v8.8M463.1 455.5h8.8M467.5 451.1v8.8M462.1 454.5h8.8M466.5 450.1v8.8M563.1 455.5h8.8M567.5 451.1v8.8M572.1 457.5h8.8M576.5 453.1v8.8M539.1 454.5h8.8M543.5 450.1v8.8M561.1 456.5h8.8M565.5 452.1v8.8M520.1 455.5h8.8M524.5 451.1v8.8M436.1 457.5h8.8M440.5 453.1v8.8M456.1 458.5h8.8M460.5 454.1v8.8M492.1 456.5h8.8M496.5 452.1v8.8M493.1 457.5h8.8M497.5 453.1v8.8M442.1 456.5h8.8M446.5 452.1v8.8M451.1 455.5h8.8M455.5 451.1v8.8M501.1 455.5h8.8M505.5 451.1v8.8M583.1 456.5h8.8M587.5 452.1v8.8M579.1 457.5h8.8M583.5 453.1v8.8M449.1 455.5h8.8M453.5 451.1v8.8M537.1 456.5h8.8M541.5 452.1v8.8M451.1 457.5h8.8M455.5 453.1v8.8M550.1 459.5h8.8M554.5 455.1v8.8M517.1 457.5h8.8M521.5 453.1v8.8M498.1 456.5h8.8M502.5 452.1v8.8M517.1 456.5h8.8M521.5 452.1v8.8M469.1 456.5h8.8M473.5 452.1v8.8M558.1 456.5h8.8M562.5 452.1v8.8M562.1 454.5h8.8M566.5 450.1v8.8M507.1 455.5h8.8M511.5 451.1v8.8M577.1 457.5h8.8M581.5 453.1v8.8M459.1 458.5h8.8M463.5 454.1v8.8M432.1 457.5h8.8M436.5 453.1v8.8M475.1 458.5h8.8M479.5 454.1v8.8M556.1 456.5h8.8M560.5 452.1v8.8M481.1 455.5h8.8M485.5 451.1v8.8M467.1 457.5h8.8M471.5 453.1v8.8M508.1 455.5h8.8M512.5 451.1v8.8M529.1 456.5h8.8M533.5 452.1v8.8M540.1 456.5h8.8M544.5 452.1v8.8M565.1 455.5h8.8M569.5 451.1v8.8M533.1 457.5h8.8M537.5 453.1v8.8M478.1 456.5h8.8M482.5 452.1v8.8M530.1 458.5h8.8M534.5 454.1v8.8M516.1 456.5h8.8M520.5 452.1v8.8M532.1 458.5h8.8M536.5 454.1v8.8M490.1 456.5h8.8M494.5 452.1v8.8M582.1 457.5h8.8M586.5 453.1v8.8M525.1 457.5h8.8M529.5 453.1v8.8M508.1 456.5h8.8M512.5 452.1v8.8M555.1 456.5h8.8M559.5 452.1v8.8M438.1 455.5h8.8M442.5 451.1v8.8M455.1 457.5h8.8M459.5 453.1v8.8M434.1 456.5h8.8M438.5 452.1v8.8M437.1 456.5h8.8M441.5 452.1v8.8M448.1 459.5h8.8M452.5 455.1v8.8M516.1 455.5h8.8M520.5 451.1v8.8M507.1 456.5h8.8M511.5 452.1v8.8M494.1 456.5h8.8M498.5 452.1v8.8M541.1 456.5h8.8M545.5 452.1v8.8M430.1 455.5h8.8M434.5 451.1v8.8M505.1 456.5h8.8M509.5 452.1v8.8M454.1 458.5h8.8M458.5 454.1v8.8M549.1 456.5h8.8M553.5 452.1v8.8M479.1 456.5h8.8M483.5 452.1v8.8M555.1 457.5h8.8M559.5 453.1v8.8M493.1 454.5h8.8M497.5 450.1v8.8M574.1 455.5h8.8M578.5 451.1v8.8M459.1 457.5h8.8M463.5 453.1v8.8M528.1 456.5h8.8M532.5 452.1v8.8M479.1 458.5h8.8M483.5 454.1v8.8M532.1 456.5h8.8M536.5 452.1v8.8M465.1 455.5h8.8M469.5 451.1v8.8M467.1 456.5h8.8M471.5 452.1v8.8M430.1 457.5h8.8M434.5 453.1v8.8M509.1 456.5h8.8M513.5 452.1v8.8M568.1 454.5h8.8M572.5 450.1v8.8M469.1 457.5h8.8M473.5 453.1v8.8M556.1 457.5h8.8M560.5 453.1v8.8M546.1 456.5h8.8M550.5 452.1v8.8M434.1 455.5h8.8M438.5 451.1v8.8M454.1 456.5h8.8M458.5 452.1v8.8M520.1 454.5h8.8M524.5 450.1v8.8M559.1 456.5h8.8M563.5 452.1v8.8M497.1 455.5h8.8M501.5 451.1v8.8M465.1 456.5h8.8M469.5 452.1v8.8M561.1 458.5h8.8M565.5 454.1v8.8M456.1 457.5h8.8M460.5 453.1v8.8M519.1 456.5h8.8M523.5 452.1v8.8M580.1 456.5h8.8M584.5 452.1v8.8M435.1 455.5h8.8M439.5 451.1v8.8M557.1 456.5h8.8M561.5 452.1v8.8M541.1 457.5h8.8M545.5 453.1v8.8M539.1 456.5h8.8M543.5 452.1v8.8M480.1 455.5h8.8M484.5 451.1v8.8M432.1 455.5h8.8M436.5 451.1v8.8M577.1 454.5h8.8M581.5 450.1v8.8M504.1 458.5h8.8M508.5 454.1v8.8M513.1 456.5h8.8M517.5 452.1v8.8M552.1 456.5h8.8M556.5 452.1v8.8M573.1 455.5h8.8M577.5 451.1v8.8M482.1 455.5h8.8M486.5 451.1v8.8M510.1 457.5h8.8M514.5 453.1v8.8M578.1 454.5h8.8M582.5 450.1v8.8M468.1 457.5h8.8M472.5 453.1v8.8M474.1 455.5h8.8M478.5 451.1v8.8M437.1 457.5h8.8M441.5 453.1v8.8M484.1 456.5h8.8M488.5 452.1v8.8M459.1 456.5h8.8M463.5 452.1v8.8M465.1 453.5h8.8M469.5 449.1v8.8M573.1 456.5h8.8M577.5 452.1v8.8M466.1 457.5h8.8M470.5 453.1v8.8M566.1 455.5h8.8M570.5 451.1v8.8M450.1 453.5h8.8M454.5 449.1v8.8M431.1 456.5h8.8M435.5 452.1v8.8M503.1 456.5h8.8M507.5 452.1v8.8M523.1 457.5h8.8M527.5 453.1v8.8M531.1 455.5h8.8M535.5 451.1v8.8M563.1 456.5h8.8M567.5 452.1v8.8M542.1 456.5h8.8M546.5 452.1v8.8M452.1 456.5h8.8M456.5 452.1v8.8M533.1 456.5h8.8M537.5 452.1v8.8M434.1 457.5h8.8M438.5 453.1v8.8M441.1 454.5h8.8M445.5 450.1v8.8M586.1 457.5h8.8M590.5 453.1v8.8M521.1 456.5h8.8M525.5 452.1v8.8M453.1 456.5h8.8M457.5 452.1v8.8M575.1 457.5h8.8M579.5 453.1v8.8M511.1 456.5h8.8M515.5 452.1v8.8M436.1 456.5h8.8M440.5 452.1v8.8M552.1 455.5h8.8M556.5 451.1v8.8M530.1 456.5h8.8M534.5 452.1v8.8M563.1 458.5h8.8M567.5 454.1v8.8M527.1 454.5h8.8M531.5 450.1v8.8M564.1 456.5h8.8M568.5 452.1v8.8M526.1 457.5h8.8M530.5 453.1v8.8M545.1 458.5h8.8M549.5 454.1v8.8M525.1 455.5h8.8M529.5 451.1v8.8M541.1 455.5h8.8M545.5 451.1v8.8M450.1 455.5h8.8M454.5 451.1v8.8M472.1 456.5h8.8M476.5 452.1v8.8M586.1 456.5h8.8M590.5 452.1v8.8M448.1 454.5h8.8M452.5 450.1v8.8M441.1 456.5h8.8M445.5 452.1v8.8M498.1 457.5h8.8M502.5 453.1v8.8M461.1 457.5h8.8M465.5 453.1v8.8M513.1 457.5h8.8M517.5 453.1v8.8M529.1 457.5h8.8M533.5 453.1v8.8M480.1 457.5h8.8M484.5 453.1v8.8M475.1 457.5h8.8M479.5 453.1v8.8M438.1 456.5h8.8M442.5 452.1v8.8M582.1 456.5h8.8M586.5 452.1v8.8M475.1 456.5h8.8M479.5 452.1v8.8M515.1 457.5h8.8M519.5 453.1v8.8M557.1 457.5h8.8M561.5 453.1v8.8M433.1 457.5h8.8M437.5 453.1v8.8M466.1 456.5h8.8M470.5 452.1v8.8M551.1 457.5h8.8M555.5 453.1v8.8M564.1 457.5h8.8M568.5 453.1v8.8M572.1 456.5h8.8M576.5 452.1v8.8M474.1 456.5h8.8M478.5 452.1v8.8M542.1 455.5h8.8M546.5 451.1v8.8M504.1 455.5h8.8M508.5 451.1v8.8M437.1 454.5h8.8M441.5 450.1v8.8M536.1 455.5h8.8M540.5 451.1v8.8M535.1 457.5h8.8M539.5 453.1v8.8M478.1 457.5h8.8M482.5 453.1v8.8M487.1 455.5h8.8M491.5 451.1v8.8M461.1 455.5h8.8M465.5 451.1v8.8M545.1 455.5h8.8M549.5 451.1v8.8M441.1 457.5h8.8M445.5 453.1v8.8M520.1 456.5h8.8M524.5 452.1v8.8M491.1 455.5h8.8M495.5 451.1v8.8M540.1 457.5h8.8M544.5 453.1v8.8M494.1 457.5h8.8M498.5 453.1v8.8M435.1 457.5h8.8M439.5 453.1v8.8M455.1 456.5h8.8M459.5 452.1v8.8M576.1 456.5h8.8M580.5 452.1v8.8M571.1 457.5h8.8M575.5 453.1v8.8M458.1 455.5h8.8M462.5 451.1v8.8M452.1 455.5h8.8M456.5 451.1v8.8M449.1 456.5h8.8M453.5 452.1v8.8M510.1 456.5h8.8M514.5 452.1v8.8M455.1 455.5h8.8M459.5 451.1v8.8M486.1 455.5h8.8M490.5 451.1v8.8M528.1 455.5h8.8M532.5 451.1v8.8M535.1 456.5h8.8M539.5 452.1v8.8M581.1 453.5h8.8M585.5 449.1v8.8M481.1 454.5h8.8M485.5 450.1v8.8M555.1 455.5h8.8M559.5 451.1v8.8M549.1 457.5h8.8M553.5 453.1v8.8M443.1 455.5h8.8M447.5 451.1v8.8M567.1 458.5h8.8M571.5 454.1v8.8M555.1 458.5h8.8M559.5 454.1v8.8M476.1 456.5h8.8M480.5 452.1v8.8M442.1 457.5h8.8M446.5 453.1v8.8M438.1 457.5h8.8M442.5 453.1v8.8M447.1 456.5h8.8M451.5 452.1v8.8M453.1 455.5h8.8M457.5 451.1v8.8M553.1 458.5h8.8M557.5 454.1v8.8M483.1 457.5h8.8M487.5 453.1v8.8M461.1 458.5h8.8M465.5 454.1v8.8M535.1 455.5h8.8M539.5 451.1v8.8M492.1 457.5h8.8M496.5 453.1v8.8M525.1 456.5h8.8M529.5 452.1v8.8M568.1 455.5h8.8M572.5 451.1v8.8M584.1 455.5h8.8M588.5 451.1v8.8M564.1 455.5h8.8M568.5 451.1v8.8M545.1 456.5h8.8M549.5 452.1v8.8M506.1 456.5h8.8M510.5 452.1v8.8M447.1 455.5h8.8M451.5 451.1v8.8M443.1 457.5h8.8M447.5 453.1v8.8M540.1 458.5h8.8M544.5 454.1v8.8M547.1 458.5h8.8M551.5 454.1v8.8M491.1 454.5h8.8M495.5 450.1v8.8M548.1 453.5h8.8M552.5 449.1v8.8M457.1 457.5h8.8M461.5 453.1v8.8M456.1 454.5h8.8M460.5 450.1v8.8M576.1 457.5h8.8M580.5 453.1v8.8M431.1 455.5h8.8M435.5 451.1v8.8M567.1 456.5h8.8M571.5 452.1v8.8M560.1 456.5h8.8M564.5 452.1v8.8M496.1 455.5h8.8M500.5 451.1v8.8M476.1 457.5h8.8M480.5 453.1v8.8M454.1 457.5h8.8M458.5 453.1v8.8M446.1 455.5h8.8M450.5 451.1v8.8M497.1 456.5h8.8M501.5 452.1v8.8M482.1 458.5h8.8M486.5 454.1v8.8M458.1 456.5h8.8M462.5 452.1v8.8M439.1 454.5h8.8M443.5 450.1v8.8M546.1 454.5h8.8M550.5 450.1v8.8M470.1 455.5h8.8M474.5 451.1v8.8M545.1 457.5h8.8M549.5 453.1v8.8M550.1 456.5h8.8M554.5 452.1v8.8M462.1 455.5h8.8M466.5 451.1v8.8M459.1 455.5h8.8M463.5 451.1v8.8M428.1 454.5h8.8M432.5 450.1v8.8M574.1 456.5h8.8M578.5 452.1v8.8M535.1 454.5h8.8M539.5 450.1v8.8M457.1 456.5h8.8M461.5 452.1v8.8M515.1 454.5h8.8M519.5 450.1v8.8M494.1 458.5h8.8M498.5 454.1v8.8M576.1 458.5h8.8M580.5 454.1v8.8M585.1 456.5h8.8M589.5 452.1v8.8M518.1 457.5h8.8M522.5 453.1v8.8M522.1 454.5h8.8M526.5 450.1v8.8M454.1 455.5h8.8M458.5 451.1v8.8M560.1 454.5h8.8M564.5 450.1v8.8M489.1 457.5h8.8M493.5 453.1v8.8M452.1 453.5h8.8M456.5 449.1v8.8M609.1 456.5h8.8M613.5 452.1v8.8M439.1 453.5h8.8M443.5 449.1v8.8M500.1 455.5h8.8M504.5 451.1v8.8M473.1 455.5h8.8M477.5 451.1v8.8M486.1 456.5h8.8M490.5 452.1v8.8M596.1 454.5h8.8M600.5 450.1v8.8M616.1 460.5h8.8M620.5 456.1v8.8M453.1 457.5h8.8M457.5 453.1v8.8M442.1 458.5h8.8M446.5 454.1v8.8M450.1 458.5h8.8M454.5 454.1v8.8M544.1 457.5h8.8M548.5 453.1v8.8M495.1 453.5h8.8M499.5 449.1v8.8M459.1 460.5h8.8M463.5 456.1v8.8M577.1 458.5h8.8M581.5 454.1v8.8M518.1 453.5h8.8M522.5 449.1v8.8M527.1 455.5h8.8M531.5 451.1v8.8M479.1 454.5h8.8M483.5 450.1v8.8M436.1 454.5h8.8M440.5 450.1v8.8M428.1 456.5h8.8M432.5 452.1v8.8M535.1 459.5h8.8M539.5 455.1v8.8M583.1 458.5h8.8M587.5 454.1v8.8M594.1 457.5h8.8M598.5 453.1v8.8M475.1 453.5h8.8M479.5 449.1v8.8M548.1 456.5h8.8M552.5 452.1v8.8M506.1 455.5h8.8M510.5 451.1v8.8M565.1 459.5h8.8M569.5 455.1v8.8M584.1 459.5h8.8M588.5 455.1v8.8M569.1 458.5h8.8M573.5 454.1v8.8M614.1 453.5h8.8M618.5 449.1v8.8M599.1 458.5h8.8M603.5 454.1v8.8M500.1 456.5h8.8M504.5 452.1v8.8M464.1 460.5h8.8M468.5 456.1v8.8M581.1 457.5h8.8M585.5 453.1v8.8M471.1 458.5h8.8M475.5 454.1v8.8M660.1 454.5h8.8M664.5 450.1v8.8M658.1 450.5h8.8M662.5 446.1v8.8M605.1 458.5h8.8M609.5 454.1v8.8M594.1 454.5h8.8M598.5 450.1v8.8M595.1 458.5h8.8M599.5 454.1v8.8M597.1 458.5h8.8M601.5 454.1v8.8M612.1 456.5h8.8M616.5 452.1v8.8M608.1 457.5h8.8M612.5 453.1v8.8M600.1 460.5h8.8M604.5 456.1v8.8M597.1 454.5h8.8M601.5 450.1v8.8M609.1 455.5h8.8M613.5 451.1v8.8M651.1 453.5h8.8M655.5 449.1v8.8M593.1 454.5h8.8M597.5 450.1v8.8M643.1 455.5h8.8M647.5 451.1v8.8M627.1 453.5h8.8M631.5 449.1v8.8M655.1 457.5h8.8M659.5 453.1v8.8M652.1 457.5h8.8M656.5 453.1v8.8M614.1 455.5h8.8M618.5 451.1v8.8M659.1 455.5h8.8M663.5 451.1v8.8M663.1 456.5h8.8M667.5 452.1v8.8M619.1 453.5h8.8M623.5 449.1v8.8M665.1 457.5h8.8M669.5 453.1v8.8M631.1 455.5h8.8M635.5 451.1v8.8M596.1 456.5h8.8M600.5 452.1v8.8M622.1 456.5h8.8M626.5 452.1v8.8M355.1 455.5h8.8M359.5 451.1v8.8M356.1 452.5h8.8M360.5 448.1v8.8M362.1 458.5h8.8M366.5 454.1v8.8M320.1 453.5h8.8M324.5 449.1v8.8M359.1 456.5h8.8M363.5 452.1v8.8M418.1 458.5h8.8M422.5 454.1v8.8M380.1 455.5h8.8M384.5 451.1v8.8M347.1 455.5h8.8M351.5 451.1v8.8M397.1 455.5h8.8M401.5 451.1v8.8M385.1 456.5h8.8M389.5 452.1v8.8M334.1 457.5h8.8M338.5 453.1v8.8M417.1 454.5h8.8M421.5 450.1v8.8M386.1 459.5h8.8M390.5 455.1v8.8M398.1 457.5h8.8M402.5 453.1v8.8M409.1 454.5h8.8M413.5 450.1v8.8M374.1 457.5h8.8M378.5 453.1v8.8M422.1 455.5h8.8M426.5 451.1v8.8M322.1 455.5h8.8M326.5 451.1v8.8M334.1 456.5h8.8M338.5 452.1v8.8M414.1 458.5h8.8M418.5 454.1v8.8M394.1 460.5h8.8M398.5 456.1v8.8M340.1 459.5h8.8M344.5 455.1v8.8M336.1 455.5h8.8M340.5 451.1v8.8M407.1 457.5h8.8M411.5 453.1v8.8M398.1 455.5h8.8M402.5 451.1v8.8M368.1 457.5h8.8M372.5 453.1v8.8M342.1 459.5h8.8M346.5 455.1v8.8M361.1 457.5h8.8M365.5 453.1v8.8M414.1 456.5h8.8M418.5 452.1v8.8M387.1 454.5h8.8M391.5 450.1v8.8M406.1 457.5h8.8M410.5 453.1v8.8M364.1 453.5h8.8M368.5 449.1v8.8M380.1 454.5h8.8M384.5 450.1v8.8M330.1 456.5h8.8M334.5 452.1v8.8M368.1 455.5h8.8M372.5 451.1v8.8M335.1 456.5h8.8M339.5 452.1v8.8M401.1 454.5h8.8M405.5 450.1v8.8M388.1 456.5h8.8M392.5 452.1v8.8M362.1 457.5h8.8M366.5 453.1v8.8M317.1 457.5h8.8M321.5 453.1v8.8M363.1 456.5h8.8M367.5 452.1v8.8M360.1 456.5h8.8M364.5 452.1v8.8M374.1 458.5h8.8M378.5 454.1v8.8M369.1 456.5h8.8M373.5 452.1v8.8M337.1 456.5h8.8M341.5 452.1v8.8M402.1 458.5h8.8M406.5 454.1v8.8M390.1 456.5h8.8M394.5 452.1v8.8M321.1 454.5h8.8M325.5 450.1v8.8M405.1 457.5h8.8M409.5 453.1v8.8M372.1 456.5h8.8M376.5 452.1v8.8M321.1 456.5h8.8M325.5 452.1v8.8M424.1 454.5h8.8M428.5 450.1v8.8M406.1 456.5h8.8M410.5 452.1v8.8M348.1 455.5h8.8M352.5 451.1v8.8M423.1 451.5h8.8M427.5 447.1v8.8M339.1 455.5h8.8M343.5 451.1v8.8M402.1 456.5h8.8M406.5 452.1v8.8M383.1 456.5h8.8M387.5 452.1v8.8" stroke="#00bfbf" stroke-width="0.8" fill="none"/>
<rect x="320" y="451.6" width="111" height="9.8" fill="#0000ff"/>
<path d="M380.3 261.3l8.4 8.4M380.3 269.7l8.4 -8.4M382.3 279.3l8.4 8.4M382.3 287.7l8.4 -8.4M412.3 279.3l8.4 8.4M412.3 287.7l8.4 -8.4M386.3 292.3l8.4 8.4M386.3 300.7l8.4 -8.4M301.3 324.3l8.4 8.4M301.3 332.7l8.4 -8.4M320.3 333.3l8.4 8.4M320.3 341.7l8.4 -8.4M333.3 324.3l8.4 8.4M333.3 332.7l8.4 -8.4M397.3 314.3l8.4 8.4M397.3 322.7l8.4 -8.4M398.3 318.3l8.4 8.4M398.3 326.7l8.4 -8.4M408.3 321.3l8.4 8.4M408.3 329.7l8.4 -8.4M340.3 382.3l8.4 8.4M340.3 390.7l8.4 -8.4M363.3 384.3l8.4 8.4M363.3 392.7l8.4 -8.4M364.3 385.3l8.4 8.4M364.3 393.7l8.4 -8.4M395.3 367.3l8.4 8.4M395.3 375.7l8.4 -8.4M396.3 368.3l8.4 8.4M396.3 376.7l8.4 -8.4M397.3 369.3l8.4 8.4M397.3 377.7l8.4 -8.4M405.3 363.3l8.4 8.4M405.3 371.7l8.4 -8.4M400.3 373.3l8.4 8.4M400.3 381.7l8.4 -8.4M401.3 372.3l8.4 8.4M401.3 380.7l8.4 -8.4M396.3 391.3l8.4 8.4M396.3 399.7l8.4 -8.4M393.3 403.3l8.4 8.4M393.3 411.7l8.4 -8.4M394.3 403.3l8.4 8.4M394.3 411.7l8.4 -8.4M396.3 404.3l8.4 8.4M396.3 412.7l8.4 -8.4M337.3 409.3l8.4 8.4M337.3 417.7l8.4 -8.4M343.3 430.3l8.4 8.4M343.3 438.7l8.4 -8.4M370.3 426.3l8.4 8.4M370.3 434.7l8.4 -8.4M329.3 444.3l8.4 8.4M329.3 452.7l8.4 -8.4M372.3 443.3l8.4 8.4M372.3 451.7l8.4 -8.4M390.3 425.3l8.4 8.4M390.3 433.7l8.4 -8.4M413.3 424.3l8.4 8.4M413.3 432.7l8.4 -8.4M402.3 440.3l8.4 8.4M402.3 448.7l8.4 -8.4M423.3 418.3l8.4 8.4M423.3 426.7l8.4 -8.4M380.3 445.3l8.4 8.4M380.3 453.7l8.4 -8.4M425.3 254.3l8.4 8.4M425.3 262.7l8.4 -8.4M422.3 299.3l8.4 8.4M422.3 307.7l8.4 -8.4M421.3 314.3l8.4 8.4M421.3 322.7l8.4 -8.4M422.3 316.3l8.4 8.4M422.3 324.7l8.4 -8.4M421.3 331.3l8.4 8.4M421.3 339.7l8.4 -8.4M419.3 341.3l8.4 8.4M419.3 349.7l8.4 -8.4M426.3 350.3l8.4 8.4M426.3 358.7l8.4 -8.4M423.3 362.3l8.4 8.4M423.3 370.7l8.4 -8.4M425.3 363.3l8.4 8.4M425.3 371.7l8.4 -8.4M427.3 363.3l8.4 8.4M427.3 371.7l8.4 -8.4M420.3 390.3l8.4 8.4M420.3 398.7l8.4 -8.4M422.3 392.3l8.4 8.4M422.3 400.7l8.4 -8.4M419.3 395.3l8.4 8.4M419.3 403.7l8.4 -8.4M420.3 396.3l8.4 8.4M420.3 404.7l8.4 -8.4M337.3 327.3l8.4 8.4M337.3 335.7l8.4 -8.4M383.3 450.3l8.4 8.4M383.3 458.7l8.4 -8.4M330.3 452.3l8.4 8.4M330.3 460.7l8.4 -8.4M417.3 454.3l8.4 8.4M417.3 462.7l8.4 -8.4M382.3 450.3l8.4 8.4M382.3 458.7l8.4 -8.4M362.3 451.3l8.4 8.4M362.3 459.7l8.4 -8.4M322.3 450.3l8.4 8.4M322.3 458.7l8.4 -8.4M321.3 452.3l8.4 8.4M321.3 460.7l8.4 -8.4M392.3 452.3l8.4 8.4M392.3 460.7l8.4 -8.4M315.3 452.3l8.4 8.4M315.3 460.7l8.4 -8.4M381.3 450.3l8.4 8.4M381.3 458.7l8.4 -8.4M360.3 452.3l8.4 8.4M360.3 460.7l8.4 -8.4M403.3 452.3l8.4 8.4M403.3 460.7l8.4 -8.4M316.3 451.3l8.4 8.4M316.3 459.7l8.4 -8.4M329.3 452.3l8.4 8.4M329.3 460.7l8.4 -8.4M407.3 451.3l8.4 8.4M407.3 459.7l8.4 -8.4M398.3 452.3l8.4 8.4M398.3 460.7l8.4 -8.4M326.3 452.3l8.4 8.4M326.3 460.7l8.4 -8.4M355.3 454.3l8.4 8.4M355.3 462.7l8.4 -8.4M368.3 451.3l8.4 8.4M368.3 459.7l8.4 -8.4M345.3 450.3l8.4 8.4M345.3 458.7l8.4 -8.4M349.3 452.3l8.4 8.4M349.3 460.7l8.4 -8.4M423.3 450.3l8.4 8.4M423.3 458.7l8.4 -8.4M413.3 453.3l8.4 8.4M413.3 461.7l8.4 -8.4M414.3 453.3l8.4 8.4M414.3 461.7l8.4 -8.4M424.3 452.3l8.4 8.4M424.3 460.7l8.4 -8.4M349.3 450.3l8.4 8.4M349.3 458.7l8.4 -8.4M384.3 453.3l8.4 8.4M384.3 461.7l8.4 -8.4M394.3 452.3l8.4 8.4M394.3 460.7l8.4 -8.4M348.3 450.3l8.4 8.4M348.3 458.7l8.4 -8.4M398.3 451.3l8.4 8.4M398.3 459.7l8.4 -8.4M356.3 452.3l8.4 8.4M356.3 460.7l8.4 -8.4M359.3 450.3l8.4 8.4M359.3 458.7l8.4 -8.4M401.3 453.3l8.4 8.4M401.3 461.7l8.4 -8.4M396.3 452.3l8.4 8.4M396.3 460.7l8.4 -8.4M420.3 450.3l8.4 8.4M420.3 458.7l8.4 -8.4M360.3 455.3l8.4 8.4M360.3 463.7l8.4 -8.4M360.3 449.3l8.4 8.4M360.3 457.7l8.4 -8.4M424.3 453.3l8.4 8.4M424.3 461.7l8.4 -8.4M322.3 454.3l8.4 8.4M322.3 462.7l8.4 -8.4M416.3 452.3l8.4 8.4M416.3 460.7l8.4 -8.4M383.3 452.3l8.4 8.4M383.3 460.7l8.4 -8.4M424.3 451.3l8.4 8.4M424.3 459.7l8.4 -8.4M368.3 452.3l8.4 8.4M368.3 460.7l8.4 -8.4M364.3 453.3l8.4 8.4M364.3 461.7l8.4 -8.4M403.3 451.3l8.4 8.4M403.3 459.7l8.4 -8.4M369.3 453.3l8.4 8.4M369.3 461.7l8.4 -8.4M391.3 453.3l8.4 8.4M391.3 461.7l8.4 -8.4M420.3 451.3l8.4 8.4M420.3 459.7l8.4 -8.4M337.3 453.3l8.4 8.4M337.3 461.7l8.4 -8.4M319.3 453.3l8.4 8.4M319.3 461.7l8.4 -8.4M370.3 451.3l8.4 8.4M370.3 459.7l8.4 -8.4M339.3 452.3l8.4 8.4M339.3 460.7l8.4 -8.4M353.3 453.3l8.4 8.4M353.3 461.7l8.4 -8.4M319.3 450.3l8.4 8.4M319.3 458.7l8.4 -8.4M365.3 454.3l8.4 8.4M365.3 462.7l8.4 -8.4M375.3 452.3l8.4 8.4M375.3 460.7l8.4 -8.4M375.3 453.3l8.4 8.4M375.3 461.7l8.4 -8.4M362.3 453.3l8.4 8.4M362.3 461.7l8.4 -8.4M324.3 452.3l8.4 8.4M324.3 460.7l8.4 -8.4M406.3 450.3l8.4 8.4M406.3 458.7l8.4 -8.4M356.3 453.3l8.4 8.4M356.3 461.7l8.4 -8.4M383.3 453.3l8.4 8.4M383.3 461.7l8.4 -8.4M409.3 453.3l8.4 8.4M409.3 461.7l8.4 -8.4M317.3 455.3l8.4 8.4M317.3 463.7l8.4 -8.4M413.3 449.3l8.4 8.4M413.3 457.7l8.4 -8.4M400.3 450.3l8.4 8.4M400.3 458.7l8.4 -8.4M414.3 454.3l8.4 8.4M414.3 462.7l8.4 -8.4M339.3 451.3l8.4 8.4M339.3 459.7l8.4 -8.4M366.3 451.3l8.4 8.4M366.3 459.7l8.4 -8.4M419.3 452.3l8.4 8.4M419.3 460.7l8.4 -8.4M348.3 453.3l8.4 8.4M348.3 461.7l8.4 -8.4M328.3 453.3l8.4 8.4M328.3 461.7l8.4 -8.4M334.3 453.3l8.4 8.4M334.3 461.7l8.4 -8.4M331.3 452.3l8.4 8.4M331.3 460.7l8.4 -8.4M410.3 451.3l8.4 8.4M410.3 459.7l8.4 -8.4M362.3 452.3l8.4 8.4M362.3 460.7l8.4 -8.4M387.3 453.3l8.4 8.4M387.3 461.7l8.4 -8.4M385.3 452.3l8.4 8.4M385.3 460.7l8.4 -8.4M322.3 453.3l8.4 8.4M322.3 461.7l8.4 -8.4M335.3 452.3l8.4 8.4M335.3 460.7l8.4 -8.4M397.3 449.3l8.4 8.4M397.3 457.7l8.4 -8.4M344.3 454.3l8.4 8.4M344.3 462.7l8.4 -8.4M386.3 453.3l8.4 8.4M386.3 461.7l8.4 -8.4M341.3 453.3l8.4 8.4M341.3 461.7l8.4 -8.4M345.3 452.3l8.4 8.4M345.3 460.7l8.4 -8.4M350.3 452.3l8.4 8.4M350.3 460.7l8.4 -8.4M332.3 450.3l8.4 8.4M332.3 458.7l8.4 -8.4M342.3 455.3l8.4 8.4M342.3 463.7l8.4 -8.4M330.3 451.3l8.4 8.4M330.3 459.7l8.4 -8.4M386.3 451.3l8.4 8.4M386.3 459.7l8.4 -8.4M406.3 453.3l8.4 8.4M406.3 461.7l8.4 -8.4M333.3 452.3l8.4 8.4M333.3 460.7l8.4 -8.4M318.3 455.3l8.4 8.4M318.3 463.7l8.4 -8.4M399.3 455.3l8.4 8.4M399.3 463.7l8.4 -8.4M420.3 452.3l8.4 8.4M420.3 460.7l8.4 -8.4M410.3 452.3l8.4 8.4M410.3 460.7l8.4 -8.4M352.3 453.3l8.4 8.4M352.3 461.7l8.4 -8.4M325.3 454.3l8.4 8.4M325.3 462.7l8.4 -8.4M355.3 452.3l8.4 8.4M355.3 460.7l8.4 -8.4M402.3 450.3l8.4 8.4M402.3 458.7l8.4 -8.4M407.3 452.3l8.4 8.4M407.3 460.7l8.4 -8.4M373.3 452.3l8.4 8.4M373.3 460.7l8.4 -8.4M355.3 450.3l8.4 8.4M355.3 458.7l8.4 -8.4M359.3 451.3l8.4 8.4M359.3 459.7l8.4 -8.4M385.3 453.3l8.4 8.4M385.3 461.7l8.4 -8.4M421.3 453.3l8.4 8.4M421.3 461.7l8.4 -8.4M400.3 454.3l8.4 8.4M400.3 462.7l8.4 -8.4M374.3 451.3l8.4 8.4M374.3 459.7l8.4 -8.4M331.3 451.3l8.4 8.4M331.3 459.7l8.4 -8.4M423.3 452.3l8.4 8.4M423.3 460.7l8.4 -8.4M377.3 451.3l8.4 8.4M377.3 459.7l8.4 -8.4M415.3 450.3l8.4 8.4M415.3 458.7l8.4 -8.4M345.3 454.3l8.4 8.4M345.3 462.7l8.4 -8.4M336.3 453.3l8.4 8.4M336.3 461.7l8.4 -8.4M334.3 450.3l8.4 8.4M334.3 458.7l8.4 -8.4M416.3 454.3l8.4 8.4M416.3 462.7l8.4 -8.4M386.3 452.3l8.4 8.4M386.3 460.7l8.4 -8.4M332.3 451.3l8.4 8.4M332.3 459.7l8.4 -8.4M347.3 453.3l8.4 8.4M347.3 461.7l8.4 -8.4M399.3 452.3l8.4 8.4M399.3 460.7l8.4 -8.4M393.3 453.3l8.4 8.4M393.3 461.7l8.4 -8.4M356.3 451.3l8.4 8.4M356.3 459.7l8.4 -8.4M383.3 455.3l8.4 8.4M383.3 463.7l8.4 -8.4M349.3 453.3l8.4 8.4M349.3 461.7l8.4 -8.4M339.3 453.3l8.4 8.4M339.3 461.7l8.4 -8.4M418.3 452.3l8.4 8.4M418.3 460.7l8.4 -8.4M319.3 451.3l8.4 8.4M319.3 459.7l8.4 -8.4M407.3 450.3l8.4 8.4M407.3 458.7l8.4 -8.4M368.3 453.3l8.4 8.4M368.3 461.7l8.4 -8.4M373.3 453.3l8.4 8.4M373.3 461.7l8.4 -8.4M364.3 454.3l8.4 8.4M364.3 462.7l8.4 -8.4M316.3 449.3l8.4 8.4M316.3 457.7l8.4 -8.4M373.3 450.3l8.4 8.4M373.3 458.7l8.4 -8.4M422.3 452.3l8.4 8.4M422.3 460.7l8.4 -8.4M373.3 454.3l8.4 8.4M373.3 462.7l8.4 -8.4M390.3 453.3l8.4 8.4M390.3 461.7l8.4 -8.4M335.3 453.3l8.4 8.4M335.3 461.7l8.4 -8.4M397.3 452.3l8.4 8.4M397.3 460.7l8.4 -8.4M317.3 450.3l8.4 8.4M317.3 458.7l8.4 -8.4M325.3 451.3l8.4 8.4M325.3 459.7l8.4 -8.4M406.3 451.3l8.4 8.4M406.3 459.7l8.4 -8.4M360.3 453.3l8.4 8.4M360.3 461.7l8.4 -8.4M353.3 452.3l8.4 8.4M353.3 460.7l8.4 -8.4M316.3 452.3l8.4 8.4M316.3 460.7l8.4 -8.4M341.3 451.3l8.4 8.4M341.3 459.7l8.4 -8.4M395.3 451.3l8.4 8.4M395.3 459.7l8.4 -8.4M380.3 453.3l8.4 8.4M380.3 461.7l8.4 -8.4M374.3 453.3l8.4 8.4M374.3 461.7l8.4 -8.4M413.3 452.3l8.4 8.4M413.3 460.7l8.4 -8.4M409.3 452.3l8.4 8.4M409.3 460.7l8.4 -8.4M389.3 452.3l8.4 8.4M389.3 460.7l8.4 -8.4M321.3 453.3l8.4 8.4M321.3 461.7l8.4 -8.4M354.3 453.3l8.4 8.4M354.3 461.7l8.4 -8.4M352.3 452.3l8.4 8.4M352.3 460.7l8.4 -8.4M352.3 451.3l8.4 8.4M352.3 459.7l8.4 -8.4M425.3 454.3l8.4 8.4M425.3 462.7l8.4 -8.4M384.3 451.3l8.4 8.4M384.3 459.7l8.4 -8.4M342.3 452.3l8.4 8.4M342.3 460.7l8.4 -8.4M381.3 451.3l8.4 8.4M381.3 459.7l8.4 -8.4M399.3 453.3l8.4 8.4M399.3 461.7l8.4 -8.4M364.3 452.3l8.4 8.4M364.3 460.7l8.4 -8.4M363.3 452.3l8.4 8.4M363.3 460.7l8.4 -8.4M359.3 453.3l8.4 8.4M359.3 461.7l8.4 -8.4M388.3 450.3l8.4 8.4M388.3 458.7l8.4 -8.4M320.3 453.3l8.4 8.4M320.3 461.7l8.4 -8.4M339.3 450.3l8.4 8.4M339.3 458.7l8.4 -8.4M417.3 452.3l8.4 8.4M417.3 460.7l8.4 -8.4M324.3 451.3l8.4 8.4M324.3 459.7l8.4 -8.4M322.3 452.3l8.4 8.4M322.3 460.7l8.4 -8.4M363.3 451.3l8.4 8.4M363.3 459.7l8.4 -8.4M390.3 452.3l8.4 8.4M390.3 460.7l8.4 -8.4M425.3 451.3l8.4 8.4M425.3 459.7l8.4 -8.4M375.3 451.3l8.4 8.4M375.3 459.7l8.4 -8.4M396.3 453.3l8.4 8.4M396.3 461.7l8.4 -8.4M390.3 449.3l8.4 8.4M390.3 457.7l8.4 -8.4M325.3 453.3l8.4 8.4M325.3 461.7l8.4 -8.4M369.3 450.3l8.4 8.4M369.3 458.7l8.4 -8.4M418.3 455.3l8.4 8.4M418.3 463.7l8.4 -8.4M367.3 454.3l8.4 8.4M367.3 462.7l8.4 -8.4M353.3 450.3l8.4 8.4M353.3 458.7l8.4 -8.4M382.3 451.3l8.4 8.4M382.3 459.7l8.4 -8.4M336.3 454.3l8.4 8.4M336.3 462.7l8.4 -8.4M376.3 451.3l8.4 8.4M376.3 459.7l8.4 -8.4M374.3 452.3l8.4 8.4M374.3 460.7l8.4 -8.4M341.3 454.3l8.4 8.4M341.3 462.7l8.4 -8.4M415.3 453.3l8.4 8.4M415.3 461.7l8.4 -8.4M333.3 449.3l8.4 8.4M333.3 457.7l8.4 -8.4M328.3 454.3l8.4 8.4M328.3 462.7l8.4 -8.4M343.3 455.3l8.4 8.4M343.3 463.7l8.4 -8.4M351.3 453.3l8.4 8.4M351.3 461.7l8.4 -8.4M326.3 451.3l8.4 8.4M326.3 459.7l8.4 -8.4M336.3 451.3l8.4 8.4M336.3 459.7l8.4 -8.4M389.3 453.3l8.4 8.4M389.3 461.7l8.4 -8.4M415.3 452.3l8.4 8.4M415.3 460.7l8.4 -8.4M404.3 452.3l8.4 8.4M404.3 460.7l8.4 -8.4M346.3 453.3l8.4 8.4M346.3 461.7l8.4 -8.4M333.3 451.3l8.4 8.4M333.3 459.7l8.4 -8.4M372.3 455.3l8.4 8.4M372.3 463.7l8.4 -8.4M408.3 453.3l8.4 8.4M408.3 461.7l8.4 -8.4M372.3 449.3l8.4 8.4M372.3 457.7l8.4 -8.4M361.3 454.3l8.4 8.4M361.3 462.7l8.4 -8.4M329.3 451.3l8.4 8.4M329.3 459.7l8.4 -8.4M324.3 453.3l8.4 8.4M324.3 461.7l8.4 -8.4M417.3 453.3l8.4 8.4M417.3 461.7l8.4 -8.4M411.3 452.3l8.4 8.4M411.3 460.7l8.4 -8.4M317.3 452.3l8.4 8.4M317.3 460.7l8.4 -8.4M371.3 454.3l8.4 8.4M371.3 462.7l8.4 -8.4M422.3 451.3l8.4 8.4M422.3 459.7l8.4 -8.4M385.3 450.3l8.4 8.4M385.3 458.7l8.4 -8.4M334.3 452.3l8.4 8.4M334.3 460.7l8.4 -8.4M412.3 451.3l8.4 8.4M412.3 459.7l8.4 -8.4M322.3 451.3l8.4 8.4M322.3 459.7l8.4 -8.4M331.3 454.3l8.4 8.4M331.3 462.7l8.4 -8.4M404.3 450.3l8.4 8.4M404.3 458.7l8.4 -8.4M393.3 452.3l8.4 8.4M393.3 460.7l8.4 -8.4M370.3 452.3l8.4 8.4M370.3 460.7l8.4 -8.4M322.3 455.3l8.4 8.4M322.3 463.7l8.4 -8.4M332.3 452.3l8.4 8.4M332.3 460.7l8.4 -8.4M323.3 455.3l8.4 8.4M323.3 463.7l8.4 -8.4M379.3 452.3l8.4 8.4M379.3 460.7l8.4 -8.4M397.3 453.3l8.4 8.4M397.3 461.7l8.4 -8.4M359.3 454.3l8.4 8.4M359.3 462.7l8.4 -8.4M349.3 451.3l8.4 8.4M349.3 459.7l8.4 -8.4M395.3 452.3l8.4 8.4M395.3 460.7l8.4 -8.4M380.3 450.3l8.4 8.4M380.3 458.7l8.4 -8.4M327.3 452.3l8.4 8.4M327.3 460.7l8.4 -8.4M418.3 453.3l8.4 8.4M418.3 461.7l8.4 -8.4M353.3 451.3l8.4 8.4M353.3 459.7l8.4 -8.4M380.3 452.3l8.4 8.4M380.3 460.7l8.4 -8.4M418.3 450.3l8.4 8.4M418.3 458.7l8.4 -8.4M321.3 450.3l8.4 8.4M321.3 458.7l8.4 -8.4M372.3 451.3l8.4 8.4M372.3 459.7l8.4 -8.4M357.3 451.3l8.4 8.4M357.3 459.7l8.4 -8.4M407.3 453.3l8.4 8.4M407.3 461.7l8.4 -8.4M402.3 453.3l8.4 8.4M402.3 461.7l8.4 -8.4M393.3 450.3l8.4 8.4M393.3 458.7l8.4 -8.4M364.3 451.3l8.4 8.4M364.3 459.7l8.4 -8.4M370.3 453.3l8.4 8.4M370.3 461.7l8.4 -8.4M327.3 451.3l8.4 8.4M327.3 459.7l8.4 -8.4M358.3 450.3l8.4 8.4M358.3 458.7l8.4 -8.4M400.3 452.3l8.4 8.4M400.3 460.7l8.4 -8.4M320.3 452.3l8.4 8.4M320.3 460.7l8.4 -8.4M395.3 453.3l8.4 8.4M395.3 461.7l8.4 -8.4M405.3 453.3l8.4 8.4M405.3 461.7l8.4 -8.4M361.3 452.3l8.4 8.4M361.3 460.7l8.4 -8.4M367.3 450.3l8.4 8.4M367.3 458.7l8.4 -8.4M405.3 450.3l8.4 8.4M405.3 458.7l8.4 -8.4M405.3 451.3l8.4 8.4M405.3 459.7l8.4 -8.4M401.3 449.3l8.4 8.4M401.3 457.7l8.4 -8.4M419.3 453.3l8.4 8.4M419.3 461.7l8.4 -8.4M394.3 450.3l8.4 8.4M394.3 458.7l8.4 -8.4M355.3 451.3l8.4 8.4M355.3 459.7l8.4 -8.4M404.3 453.3l8.4 8.4M404.3 461.7l8.4 -8.4M340.3 452.3l8.4 8.4M340.3 460.7l8.4 -8.4M385.3 449.3l8.4 8.4M385.3 457.7l8.4 -8.4M342.3 453.3l8.4 8.4M342.3 461.7l8.4 -8.4M357.3 452.3l8.4 8.4M357.3 460.7l8.4 -8.4M426.3 453.3l8.4 8.4M426.3 461.7l8.4 -8.4M414.3 452.3l8.4 8.4M414.3 460.7l8.4 -8.4M379.3 450.3l8.4 8.4M379.3 458.7l8.4 -8.4M328.3 450.3l8.4 8.4M328.3 458.7l8.4 -8.4M348.3 451.3l8.4 8.4M348.3 459.7l8.4 -8.4M415.3 451.3l8.4 8.4M415.3 459.7l8.4 -8.4M408.3 451.3l8.4 8.4M408.3 459.7l8.4 -8.4M415.3 454.3l8.4 8.4M415.3 462.7l8.4 -8.4M392.3 451.3l8.4 8.4M392.3 459.7l8.4 -8.4M371.3 452.3l8.4 8.4M371.3 460.7l8.4 -8.4M337.3 451.3l8.4 8.4M337.3 459.7l8.4 -8.4M425.3 453.3l8.4 8.4M425.3 461.7l8.4 -8.4M363.3 450.3l8.4 8.4M363.3 458.7l8.4 -8.4M345.3 451.3l8.4 8.4M345.3 459.7l8.4 -8.4M402.3 452.3l8.4 8.4M402.3 460.7l8.4 -8.4M372.3 453.3l8.4 8.4M372.3 461.7l8.4 -8.4M417.3 455.3l8.4 8.4M417.3 463.7l8.4 -8.4M382.3 453.3l8.4 8.4M382.3 461.7l8.4 -8.4M372.3 450.3l8.4 8.4M372.3 458.7l8.4 -8.4M324.3 454.3l8.4 8.4M324.3 462.7l8.4 -8.4M328.3 452.3l8.4 8.4M328.3 460.7l8.4 -8.4M410.3 454.3l8.4 8.4M410.3 462.7l8.4 -8.4M358.3 453.3l8.4 8.4M358.3 461.7l8.4 -8.4M422.3 454.3l8.4 8.4M422.3 462.7l8.4 -8.4M345.3 453.3l8.4 8.4M345.3 461.7l8.4 -8.4M419.3 454.3l8.4 8.4M419.3 462.7l8.4 -8.4M316.3 454.3l8.4 8.4M316.3 462.7l8.4 -8.4M354.3 454.3l8.4 8.4M354.3 462.7l8.4 -8.4M406.3 454.3l8.4 8.4M406.3 462.7l8.4 -8.4M346.3 452.3l8.4 8.4M346.3 460.7l8.4 -8.4M367.3 451.3l8.4 8.4M367.3 459.7l8.4 -8.4M398.3 450.3l8.4 8.4M398.3 458.7l8.4 -8.4M366.3 452.3l8.4 8.4M366.3 460.7l8.4 -8.4M382.3 452.3l8.4 8.4M382.3 460.7l8.4 -8.4M366.3 450.3l8.4 8.4M366.3 458.7l8.4 -8.4M367.3 452.3l8.4 8.4M367.3 460.7l8.4 -8.4M393.3 451.3l8.4 8.4M393.3 459.7l8.4 -8.4M350.3 454.3l8.4 8.4M350.3 462.7l8.4 -8.4M391.3 452.3l8.4 8.4M391.3 460.7l8.4 -8.4M348.3 452.3l8.4 8.4M348.3 460.7l8.4 -8.4M400.3 451.3l8.4 8.4M400.3 459.7l8.4 -8.4M398.3 453.3l8.4 8.4M398.3 461.7l8.4 -8.4M394.3 451.3l8.4 8.4M394.3 459.7l8.4 -8.4M427.3 452.3l8.4 8.4M427.3 460.7l8.4 -8.4M426.3 451.3l8.4 8.4M426.3 459.7l8.4 -8.4" stroke="#0000ff" stroke-width="0.8" fill="none"/>
<g fill="#000"><circle cx="325.7" cy="456.6" r="4.5"/><circle cx="328.0" cy="456.6" r="4.5"/><circle cx="330.0" cy="456.8" r="4.5"/><circle cx="335.5" cy="456.1" r="4.5"/><circle cx="338.0" cy="457.1" r="4.5"/><circle cx="341.0" cy="457.0" r="4.5"/><circle cx="344.0" cy="455.9" r="4.5"/><circle cx="346.5" cy="456.6" r="4.5"/><circle cx="352.0" cy="457.0" r="4.5"/><circle cx="354.5" cy="457.1" r="4.5"/><circle cx="357.0" cy="456.1" r="4.5"/><circle cx="360.0" cy="456.0" r="4.5"/><circle cx="363.0" cy="456.8" r="4.5"/><circle cx="367.0" cy="456.7" r="4.5"/><circle cx="370.0" cy="456.4" r="4.5"/><circle cx="373.0" cy="457.1" r="4.5"/><circle cx="376.0" cy="455.9" r="4.5"/><circle cx="379.0" cy="457.0" r="4.5"/><circle cx="381.0" cy="457.2" r="4.5"/><circle cx="386.0" cy="455.9" r="4.5"/><circle cx="388.5" cy="457.2" r="4.5"/><circle cx="391.0" cy="457.1" r="4.5"/><circle cx="396.5" cy="456.9" r="4.5"/><circle cx="364.0" cy="459.6" r="4.5"/></g>
<path d="M100.5 456.5H720.5" stroke="#0000ff" stroke-width="1.4" stroke-dasharray="8.33 8.33" fill="none"/>
</g>
<rect x="100.5" y="60.5" width="620" height="480" fill="none" stroke="#000" stroke-width="1.1"/>
<path d="M100.50 540.5v-5.5M183.17 540.5v-5.5M265.83 540.5v-5.5M348.50 540.5v-5.5M431.17 540.5v-5.5M513.83 540.5v-5.5M596.50 540.5v-5.5M679.17 540.5v-5.5M144.52 60.5v5.5M227.19 60.5v5.5M309.85 60.5v5.5M392.52 60.5v5.5M475.19 60.5v5.5M557.85 60.5v5.5M640.52 60.5v5.5M100.5 540.50h5.5M720.5 540.50h-5.5M100.5 420.50h5.5M720.5 420.50h-5.5M100.5 300.50h5.5M720.5 300.50h-5.5M100.5 180.50h5.5M720.5 180.50h-5.5M100.5 60.50h5.5M720.5 60.50h-5.5" stroke="#000" stroke-width="0.8" fill="none"/>
<text x="100.1" y="560" text-anchor="middle" class="tk" textLength="33.8" lengthAdjust="spacingAndGlyphs">−20</text>
<text x="182.8" y="560" text-anchor="middle" class="tk" textLength="33.8" lengthAdjust="spacingAndGlyphs">−18</text>
<text x="265.4" y="560" text-anchor="middle" class="tk" textLength="33.8" lengthAdjust="spacingAndGlyphs">−16</text>
<text x="348.1" y="560" text-anchor="middle" class="tk" textLength="33.8" lengthAdjust="spacingAndGlyphs">−14</text>
<text x="430.8" y="560" text-anchor="middle" class="tk" textLength="33.8" lengthAdjust="spacingAndGlyphs">−12</text>
<text x="513.4" y="560" text-anchor="middle" class="tk" textLength="33.8" lengthAdjust="spacingAndGlyphs">−10</text>
<text x="596.1" y="560" text-anchor="middle" class="tk" textLength="22.6" lengthAdjust="spacingAndGlyphs">−8</text>
<text x="678.8" y="560" text-anchor="middle" class="tk" textLength="22.6" lengthAdjust="spacingAndGlyphs">−6</text>
<text x="143.1" y="49.5" text-anchor="middle" class="tk" textLength="20" lengthAdjust="spacingAndGlyphs">14</text>
<text x="225.8" y="49.5" text-anchor="middle" class="tk" textLength="20" lengthAdjust="spacingAndGlyphs">16</text>
<text x="308.5" y="49.5" text-anchor="middle" class="tk" textLength="20" lengthAdjust="spacingAndGlyphs">18</text>
<text x="391.1" y="49.5" text-anchor="middle" class="tk" textLength="20" lengthAdjust="spacingAndGlyphs">20</text>
<text x="473.8" y="49.5" text-anchor="middle" class="tk" textLength="20" lengthAdjust="spacingAndGlyphs">22</text>
<text x="556.5" y="49.5" text-anchor="middle" class="tk" textLength="20" lengthAdjust="spacingAndGlyphs">24</text>
<text x="639.1" y="49.5" text-anchor="middle" class="tk" textLength="20" lengthAdjust="spacingAndGlyphs">26</text>
<text x="94.6" y="545.1" text-anchor="end" class="tk" textLength="9.6" lengthAdjust="spacingAndGlyphs">0</text>
<text x="94.6" y="425.1" text-anchor="end" class="tk" textLength="9.6" lengthAdjust="spacingAndGlyphs">5</text>
<text x="94.6" y="305.1" text-anchor="end" class="tk" textLength="20" lengthAdjust="spacingAndGlyphs">10</text>
<text x="94.6" y="185.1" text-anchor="end" class="tk" textLength="20" lengthAdjust="spacingAndGlyphs">15</text>
<text x="94.6" y="65.1" text-anchor="end" class="tk" textLength="20" lengthAdjust="spacingAndGlyphs">20</text>
<text x="301.5" y="29.5" class="lg" textLength="64.58" lengthAdjust="spacingAndGlyphs">FWHM</text>
<text x="372.2" y="29.5" class="lg" textLength="21.69" lengthAdjust="spacingAndGlyphs">vs</text>
<text x="401.2" y="29.5" class="lg" textLength="118.91" lengthAdjust="spacingAndGlyphs">magnitudes</text>
<text x="264.2" y="584.0" class="xl" textLength="89.82" lengthAdjust="spacingAndGlyphs">magnitude</text>
<text x="360.2" y="584.0" class="xl" textLength="102.52" lengthAdjust="spacingAndGlyphs">(bottom:isnt</text>
<text x="478.8" y="584.0" class="xl" textLength="77.72" lengthAdjust="spacingAndGlyphs">top:calib)</text>
<path d="M468.5 585.6L474.5 569.6" stroke="#000" stroke-width="1.5" fill="none"/>
<g transform="translate(63.9 346.4) rotate(-90)"><text x="-1.0" y="0" class="tk" textLength="51.53" lengthAdjust="spacingAndGlyphs">FWHM</text><text x="55.4" y="0" class="tk" textLength="38.97" lengthAdjust="spacingAndGlyphs">(pix)</text></g>
<rect x="398.5" y="70.5" width="312" height="122" fill="#fff" stroke="#000" stroke-width="1.1"/>
<path d="M408.1 86.5h8.8M412.5 82.1v8.8M436.1 86.5h8.8M440.5 82.1v8.8" stroke="#00bfbf" stroke-width="0.8" fill="none"/>
<path d="M408.3 111.3l8.4 8.4M408.3 119.7l8.4 -8.4M436.3 111.3l8.4 8.4M436.3 119.7l8.4 -8.4" stroke="#0000ff" stroke-width="0.8" fill="none"/>
<circle cx="412.4" cy="144.5" r="4.6"/><circle cx="440.4" cy="144.5" r="4.6"/>
<path d="M412 173.5H440.5" stroke="#0000ff" stroke-width="1.4" stroke-dasharray="8.33 8.33" fill="none"/>
<text x="462.5" y="93.2" class="lg" textLength="21.58" lengthAdjust="spacingAndGlyphs">all</text>
<text x="492.0" y="93.2" class="lg" textLength="72.32" lengthAdjust="spacingAndGlyphs">sample</text>
<text x="461.8" y="122.3" class="lg" textLength="72.41" lengthAdjust="spacingAndGlyphs">sample</text>
<text x="541.2" y="122.3" class="lg" textLength="26.92" lengthAdjust="spacingAndGlyphs">for</text>
<text x="575.6" y="122.3" class="lg" textLength="57.55" lengthAdjust="spacingAndGlyphs">rough</text>
<text x="640.4" y="122.3" class="lg" textLength="63.97" lengthAdjust="spacingAndGlyphs">FWHM</text>
<text x="461.8" y="150.8" class="lg" textLength="66.43" lengthAdjust="spacingAndGlyphs">coarse</text>
<text x="535.5" y="150.8" class="lg" textLength="77.23" lengthAdjust="spacingAndGlyphs">PSF-like</text>
<text x="619.4" y="150.8" class="lg" textLength="72.71" lengthAdjust="spacingAndGlyphs">sample</text>
<text x="462.0" y="179.5" class="lg" textLength="90.91" lengthAdjust="spacingAndGlyphs">tentative</text>
<text x="559.5" y="179.5" class="lg" textLength="63.05" lengthAdjust="spacingAndGlyphs">FWHM</text>
</svg></body></html>
